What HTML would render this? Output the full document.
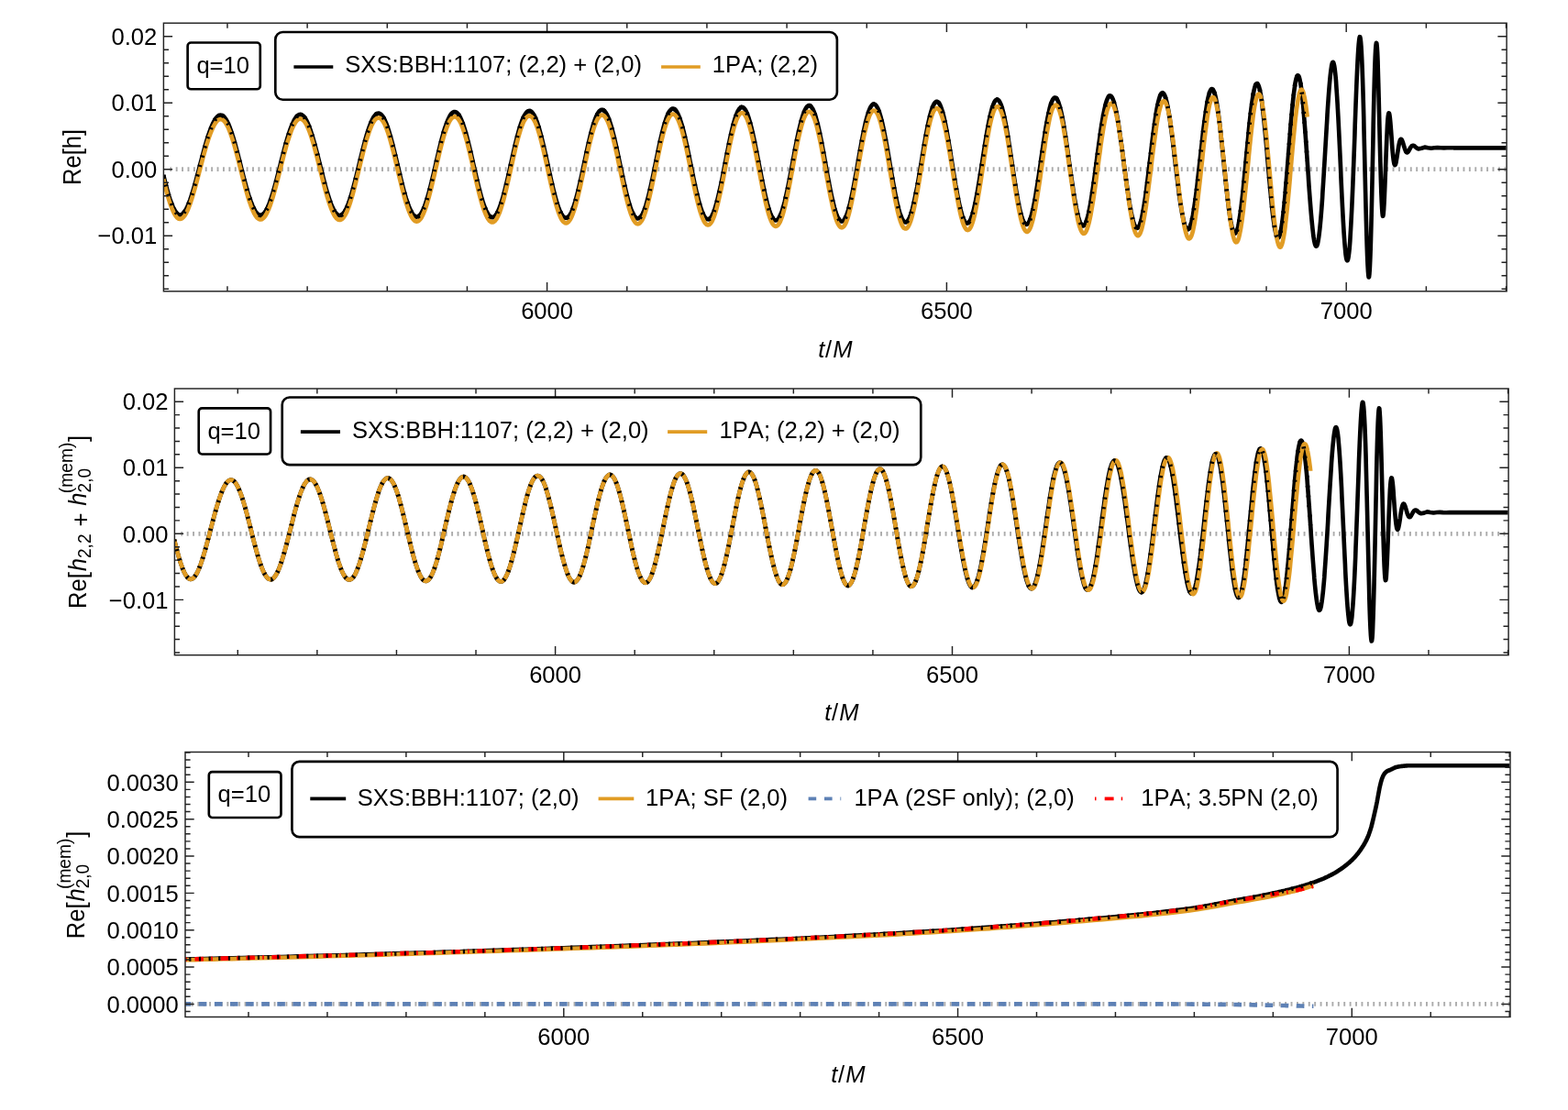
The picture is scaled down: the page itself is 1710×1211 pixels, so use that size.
<!DOCTYPE html>
<html><head><meta charset="utf-8"><title>Waveform comparison q=10</title>
<style>html,body{margin:0;padding:0;background:#fff}svg{display:block}</style></head>
<body>
<svg width="1710" height="1211" viewBox="0 0 1710 1211" font-family='"Liberation Sans", sans-serif' font-size="25.60" fill="#000" style="font-kerning:none">
<rect width="1710" height="1211" fill="#fff"/>
<clipPath id="c1"><rect x="178.40" y="25.20" width="1464.70" height="292.60"/></clipPath>
<clipPath id="c2"><rect x="190.40" y="424.00" width="1454.70" height="290.70"/></clipPath>
<clipPath id="c3"><rect x="202.00" y="820.50" width="1445.00" height="289.00"/></clipPath>
<g clip-path="url(#c1)" fill="none" stroke-linejoin="round">
<path d="M185.30,184.65H1643.10" stroke="#ABABAB" stroke-width="4.8" stroke-dasharray="1.9 4.51" fill="none"/>
<path d="M178.2,191l1 4.1 1 4 1 3.8 1 3.7 1 3.6 1 3.4 1 3.1 1.1 3 1 2.7 1 2.5 1 2.2 1 2 1 1.6 1 1.4 1 1.1 1 .7 1 .5 1 .1 1-.1 1-.4 1-.8 1-1 1-1.3 1-1.5 1-1.8 1-2.1 1-2.3 1-2.5 1-2.7 1-2.9 1-3.1 1-3.2 1-3.4 1-3.5 1-3.6 1-3.7 1-3.7 1-3.8 1-3.8 1-3.9 1-3.8 1-3.8 1-3.8 1-3.7 1-3.6 1-3.5 1-3.5 1-3.2 1-3.2 1-2.9 1.1-2.8 1-2.7 1-2.4 1-2.2 1-1.9 1-1.8 1-1.5 1-1.2 1-1 1-.7 1-.5 1-.1 1 .1 1 .3 1 .7 1 .9 1 1.2 1 1.4 1 1.7 1 2 1 2.2 1 2.4 1 2.7 1 2.8 1 3.1 1 3.2 1 3.4 1 3.5 1 3.6 1 3.8 1 3.8 1 3.9 1 4 1 3.9 1 4 1 3.9 1 4 1 3.8 1 3.8 1 3.6 1 3.6 1 3.4 1 3.2 1.1 3.1 1 2.9 1 2.6 1 2.5 1 2.2 1 2 1 1.7 1 1.4 1 1.1 1 .9 1 .6 1 .3 1 0 1-.3 1-.5 1-.9 1-1.1 1-1.4 1-1.7 1-1.9 1-2.2 1-2.4 1-2.7 1-2.8 1-3.1 1-3.2 1-3.4 1-3.5 1-3.7 1-3.7 1-3.9 1-3.9 1-3.9 1-4 1-4 1-3.9 1-4 1-3.8 1-3.8 1-3.7 1-3.6 1-3.4 1.1-3.3 1-3.1 1-2.9 1-2.8 1-2.5 1-2.2 1-2.1 1-1.7 1-1.5 1-1.3 1-.9 1-.7 1-.4 1-.1 1 .2 1 .5 1 .7 1 1.1 1 1.3 1 1.6 1 1.9 1 2.1 1 2.3 1 2.6 1 2.8 1 3.1 1 3.2 1 3.3 1 3.5 1 3.7 1 3.8 1 3.8 1 4 1 4 1 4 1 4 1 4 1 4 1 4 1 3.8 1 3.8 1 3.6 1 3.6 1.1 3.3 1 3.2 1 3 1 2.8 1 2.5 1 2.4 1 2 1 1.8 1 1.6 1 1.2 1 1 1 .7 1 .3 1 .1 1-.2 1-.5 1-.9 1-1.1 1-1.4 1-1.7 1-2 1-2.2 1-2.5 1-2.7 1-3 1-3.1 1-3.4 1-3.5 1-3.7 1-3.8 1-3.9 1-4 1-4.1 1-4.1 1-4.2 1-4.1 1-4.2 1-4.1 1-4 1-3.9 1-3.8 1-3.7 1-3.5 1.1-3.4 1-3.1 1-3 1-2.7 1-2.5 1-2.2 1-1.9 1-1.7 1-1.3 1-1.1 1-.8 1-.4 1-.1 1 .2 1 .5 1 .8 1 1.1 1 1.4 1 1.8 1 2 1 2.2 1 2.6 1 2.8 1 3 1 3.3 1 3.4 1 3.6 1 3.8 1 3.9 1 4 1 4.2 1 4.2 1 4.2 1 4.3 1 4.2 1 4.2 1 4.2 1 4.1 1 4 1 3.9 1 3.8 1 3.5 1 3.4 1.1 3.2 1 3 1 2.7 1 2.4 1 2.2 1 1.9 1 1.7 1 1.3 1 .9 1 .7 1 .4 1 0 1-.3 1-.7 1-.9 1-1.3 1-1.6 1-1.9 1-2.1 1-2.5 1-2.7 1-3 1-3.2 1-3.4 1-3.6 1-3.8 1-3.9 1-4.1 1-4.2 1-4.2 1-4.4 1-4.3 1-4.4 1-4.3 1-4.3 1-4.2 1-4.2 1-4 1-3.9 1-3.7 1-3.5 1-3.4 1.1-3.1 1-2.8 1-2.7 1-2.3 1-2 1-1.8 1-1.4 1-1.1 1-.8 1-.5 1-.1 1 .2 1 .6 1 .9 1 1.2 1 1.5 1 1.8 1 2.2 1 2.4 1 2.7 1 2.9 1 3.2 1 3.5 1 3.6 1 3.8 1 4 1 4.1 1 4.2 1 4.3 1 4.4 1 4.4 1 4.4 1 4.4 1 4.4 1 4.3 1 4.2 1 4.1 1 3.9 1 3.8 1 3.6 1 3.4 1 3.2 1 2.9 1.1 2.6 1 2.4 1 2 1 1.8 1 1.4 1 1.2 1 .7 1 .5 1 .1 1-.3 1-.6 1-1 1-1.2 1-1.7 1-1.9 1-2.2 1-2.6 1-2.8 1-3.1 1-3.3 1-3.6 1-3.8 1-3.9 1-4.1 1-4.3 1-4.3 1-4.5 1-4.5 1-4.5 1-4.5 1-4.5 1-4.5 1-4.3 1-4.3 1-4.1 1-4 1-3.8 1-3.5 1-3.4 1-3.1 1-2.8 1-2.5 1-2.3 1.1-1.9 1-1.6 1-1.3 1-.9 1-.5 1-.2 1 .1 1 .5 1 .9 1 1.2 1 1.5 1 1.9 1 2.2 1 2.5 1 2.8 1 3.1 1 3.3 1 3.6 1 3.8 1 4 1 4.1 1 4.3 1 4.4 1 4.5 1 4.6 1 4.5 1 4.6 1 4.6 1 4.5 1 4.5 1 4.3 1 4.2 1 4 1 3.9 1 3.6 1 3.5 1 3.1 1 2.9 1 2.6 1 2.3 1 1.9 1 1.6 1 1.3 1.1 .9 1 .5 1 .2 1-.2 1-.6 1-.9 1-1.3 1-1.6 1-2 1-2.4 1-2.6 1-3 1-3.2 1-3.5 1-3.8 1-4 1-4.1 1-4.4 1-4.4 1-4.6 1-4.7 1-4.7 1-4.7 1-4.7 1-4.7 1-4.6 1-4.5 1-4.4 1-4.2 1-4.1 1-3.8 1-3.6 1-3.3 1-3.1 1-2.7 1-2.4 1-2.1 1-1.8 1-1.4 1-1 1-.6 1-.3 1.1 .1 1 .5 1 .9 1 1.3 1 1.6 1 1.9 1 2.3 1 2.7 1 2.9 1 3.2 1 3.5 1 3.8 1 3.9 1 4.2 1 4.3 1 4.5 1 4.6 1 4.7 1 4.7 1 4.8 1 4.8 1 4.7 1 4.6 1 4.6 1 4.4 1 4.3 1 4.1 1 3.9 1 3.7 1 3.4 1 3.1 1 2.8 1 2.5 1 2.1 1 1.8 1 1.5 1 1 1 .7 1 .2 1-.1 1-.5 1-.9 1-1.3 1.1-1.7 1-2.1 1-2.4 1-2.7 1-3.1 1-3.4 1-3.7 1-3.9 1-4.1 1-4.4 1-4.5 1-4.7 1-4.8 1-4.9 1-4.9 1-5 1-4.9 1-4.8 1-4.8 1-4.7 1-4.5 1-4.3 1-4.1 1-3.9 1-3.6 1-3.3 1-3 1-2.7 1-2.3 1-2 1-1.5 1-1.2 1-.8 1-.4 1 .1 1 .4 1 .9 1 1.2 1 1.6 1 2 1 2.4 1 2.7 1 3 1.1 3.4 1 3.6 1 3.9 1 4.2 1 4.3 1 4.5 1 4.7 1 4.8 1 4.9 1 5 1 4.9 1 5 1 4.9 1 4.8 1 4.7 1 4.6 1 4.4 1 4.2 1 4 1 3.7 1 3.4 1 3.2 1 2.7 1 2.5 1 2 1 1.7 1 1.2 1 .9 1 .4 1 0 1-.4 1-.8 1-1.3 1-1.7 1-2.1 1-2.5 1-2.8 1-3.3 1-3.5 1-3.9 1-4.1 1-4.4 1.1-4.6 1-4.8 1-5 1-5.1 1-5.2 1-5.2 1-5.2 1-5.2 1-5.1 1-5 1-4.9 1-4.7 1-4.4 1-4.3 1-3.9 1-3.6 1-3.4 1-2.9 1-2.5 1-2.2 1-1.7 1-1.4 1-.8 1-.5 1 .1 1 .4 1 1 1 1.3 1 1.8 1 2.2 1 2.6 1 3 1 3.3 1 3.7 1 3.9 1 4.3 1 4.5 1 4.7 1 4.9 1 5 1 5.2 1 5.2 1 5.3 1.1 5.2 1 5.3 1 5.1 1 5 1 4.9 1 4.7 1 4.4 1 4.2 1 4 1 3.6 1 3.2 1 2.9 1 2.5 1 2.1 1 1.7 1 1.2 1 .8 1 .4 1-.2 1-.5 1-1.1 1-1.4 1-2 1-2.3 1-2.7 1-3.2 1-3.5 1-3.8 1-4.2 1-4.5 1-4.7 1-4.9 1-5.1 1-5.2 1-5.3 1-5.5 1-5.4 1-5.4 1-5.4 1-5.2 1-5.1 1-5 1-4.7 1.1-4.5 1-4.2 1-3.8 1-3.6 1-3.1 1-2.7 1-2.4 1-1.8 1-1.5 1-.9 1-.5 1 0 1 .5 1 1 1 1.5 1 1.9 1 2.4 1 2.8 1 3.2 1 3.6 1 3.9 1 4.3 1 4.6 1 4.9 1 5 1 5.3 1 5.4 1 5.5 1 5.6 1 5.6 1 5.6 1 5.5 1 5.4 1 5.2 1 5 1 4.8 1 4.5 1 4.2 1 3.9 1 3.4 1 3.1 1 2.6 1 2.2 1.1 1.8 1 1.2 1 .7 1 .3 1-.3 1-.8 1-1.2 1-1.8 1-2.2 1-2.7 1-3.2 1-3.5 1-3.9 1-4.3 1-4.6 1-4.9 1-5.1 1-5.4 1-5.5 1-5.6 1-5.7 1-5.8 1-5.7 1-5.6 1-5.6 1-5.4 1-5.2 1-4.9 1-4.7 1-4.4 1-4 1-3.6 1-3.2 1-2.8 1-2.3 1-1.8 1-1.3 1-.8 1-.2 1 .2 1 .8 1 1.3 1.1 1.9 1 2.3 1 2.8 1 3.2 1 3.7 1 4.1 1 4.4 1 4.8 1 5.1 1 5.3 1 5.5 1 5.7 1 5.8 1 5.9 1 5.9 1 5.8 1 5.8 1 5.6 1 5.5 1 5.3 1 4.9 1 4.7 1 4.3 1 3.9 1 3.5 1 3.1 1 2.6 1 2.1 1 1.5 1 1.1 1 .5 1-.1 1-.6 1-1.1 1-1.6 1-2.2 1-2.6 1-3.2 1-3.6 1-4 1-4.4 1-4.8 1-5.1 1.1-5.3 1-5.7 1-5.8 1-5.9 1-6 1-6.1 1-6.1 1-6 1-5.9 1-5.7 1-5.5 1-5.3 1-4.9 1-4.6 1-4.2 1-3.7 1-3.3 1-2.8 1-2.2 1-1.7 1-1.1 1-.6 1 .1 1 .6 1 1.3 1 1.7 1 2.4 1 2.9 1 3.4 1 3.9 1 4.4 1 4.7 1 5.2 1 5.5 1 5.7 1 6 1 6.1 1 6.3 1 6.3 1 6.3 1 6.3 1 6.2 1 6 1.1 5.7 1 5.5 1 5.2 1 4.7 1 4.4 1 3.9 1 3.4 1 2.9 1 2.3 1 1.8 1 1.1 1 .6 1-.1 1-.6 1-1.3 1-1.8 1-2.4 1-3 1-3.4 1-4 1-4.4 1-4.9 1-5.2 1-5.6 1-5.9 1-6.1 1-6.2 1-6.4 1-6.5 1-6.5 1-6.4 1-6.4 1-6.1 1-5.9 1-5.7 1-5.3 1-4.9 1-4.4 1-4 1-3.4 1-2.9 1-2.3 1-1.6 1.1-1.1 1-.3 1 .3 1 .9 1 1.6 1 2.2 1 2.8 1 3.4 1 3.9 1 4.5 1 4.9 1 5.3 1 5.8 1 6 1 6.3 1 6.5 1 6.7 1 6.7 1 6.8 1 6.6 1 6.6 1 6.3 1 6.2 1 5.8 1 5.4 1 5 1 4.5 1 4.1 1 3.4 1 2.9 1 2.2 1 1.6 1 .9 1 .3 1-.5 .8-.8 .8-1.2 .8-1.6 .8-2 .8-2.4 .7-2.7 .8-3.2 .8-3.4 .8-3.8 .8-4 .8-4.4 .7-4.5 .8-4.8 .8-5 .8-5.2 .8-5.2 .8-5.4 .8-5.4 .7-5.5 .8-5.5 .8-5.4 .8-5.3 .8-5.3 .8-5.1 .7-4.9 .8-4.8 .8-4.4 .8-4.3 .8-3.9 .8-3.6 .7-3.3 .8-2.9 .8-2.5 .8-2.1 .8-1.7 .8-1.3 .8-.9 .7-.3 .8 0 .8 .5 .8 1 .8 1.4 .8 1.8 .7 2.2 .8 2.6 .8 3 .8 3.4 .8 3.7 .8 4 .8 4.3 .7 4.6 .8 4.9 .8 5 .8 5.3 .8 5.4 .8 5.5 .7 5.5 .8 5.7 .8 5.6 .8 5.6 .8 5.5 .8 5.4 .8 5.3 .7 5.1 .8 5 .8 4.6 .8 4.4 .8 4.2 .8 3.7 .7 3.5 .8 3 .8 2.6 .8 2.3 .8 1.8 .8 1.3 .7 .9 .8 .4 .8-.1 .8-.6 .8-1 .8-1.5 .8-2 .7-2.4 .8-2.9 .8-3.2 .8-3.7 .8-4.1 .8-4.4 .7-4.7 .8-5 .8-5.2 .8-5.5 .8-5.7 .8-5.8 .8-5.9 .7-5.9 .8-6 .8-5.9 .8-5.9 .8-5.7 .8-5.6 .7-5.4 .8-5.2 .8-4.9 .8-4.6 .8-4.3 .8-3.8 .8-3.5 .7-3.1 .8-2.6 .8-2.2 .8-1.7 .8-1.2 .8-.7 .7-.2 .8 .3 .8 .8 .8 1.3 .8 1.7 .8 2.2 .7 2.7 .8 3.1 .8 3.5 .8 3.9 .8 4.2 .8 4.6 .8 4.9 .7 5.1 .8 5.4 .8 5.6 .8 5.7 .8 5.9 .8 5.9 .7 6 .8 6 .8 6 .8 5.8 .8 5.8 .8 5.6 .8 5.4 .7 5.2 .8 4.9 .8 4.5 .8 4.3 .8 3.8 .8 3.5 .7 3 .8 2.6 .8 2.1 .8 1.5 .8 1.1 .8 .5 .8 0 .7-.5 .8-1.1 .8-1.7 .8-2.2 .8-2.7 .8-3.2 .7-3.7 .8-4.2 .8-4.6 .8-5 .8-5.3 .8-5.7 .7-5.9 .8-6.2 .8-6.4 .8-6.5 .8-6.6 .8-6.6 .8-6.6 .7-6.4 .8-6.4 .8-6.2 .8-5.9 .8-5.7 .8-5.3 .7-4.9 .8-4.6 .8-4 .8-3.6 .8-3.1 .8-2.5 .8-1.9 .7-1.4 .8-.8 .8-.2 .8 .5 .8 1 .8 1.6 .7 2.1 .8 2.7 .8 3.3 .8 3.7 .8 4.3 .8 4.6 .8 5.1 .7 5.4 .8 5.8 .8 6 .8 6.3 .8 6.4 .8 6.6 .7 6.6 .8 6.7 .8 6.6 .8 6.6 .8 6.4 .8 6.2 .7 6 .8 5.7 .8 5.4 .8 5 .8 4.6 .8 4.2 .8 3.6 .7 3.2 .8 2.6 .8 2 .8 1.4 .8 .9 .8 .2 .7-.4 .8-1.1 .8-1.6 .8-2.3 .8-2.8 .8-3.4 .8-4 .7-4.4 .8-5 .8-5.4 .8-5.8 .8-6.1 .8-6.5 .7-6.7 .8-6.9 .8-7.1 .8-7.1 .8-7.1 .8-7.1 .8-7 .7-6.9 .8-6.6 .8-6.2 .8-6 .8-5.5 .8-5.1 .7-4.6 .8-4 .8-3.5 .8-2.8 .8-2.1 .8-1.5 .7-.8 .8 0 .8 .6 .8 1.4 .8 2.1 .8 2.8 .8 3.4 .7 4.1 .8 4.7 .8 5.2 .8 5.8 .8 6.3 .8 6.6 .7 7 .8 7.3 .8 7.6 .8 7.6 .8 7.8 .8 7.7 .8 7.7 .7 7.5 .8 7.3 .8 7 .8 6.6 .8 6.2 .8 5.7 .7 5.2 .8 4.5 .8 3.8 .8 3.2 .8 2.4 .8 1.6 .8 .9 .7 0 .8-.8 .8-1.6 .8-2.4 .8-3.2 .8-3.9 .7-4.7 .8-5.3 .8-5.9 .8-6.6 .8-7 .8-7.4 .7-7.8 .8-8.1 .8-8.3 .8-8.4 .8-8.4 .8-8.3 .8-8.2 .7-7.9 .8-7.6 .8-7.1 .8-6.7 .8-6.1 .8-5.5 .7-4.8 .8-4 .8-3.2 .8-2.4 .8-1.5 .8-.6 .8 .3 .7 1.3 .8 2.1 .8 3 .8 3.9 .8 4.6 .8 5.5 .7 6.2 .8 6.8 .8 7.4 .8 7.9 .8 8.3 .8 8.7 .8 8.8 .3 4.5 .4 4.5 .4 4.5 .4 4.5 .4 4.5 .4 4.5 .4 4.4 .4 4.3 .4 4.3 .4 4.2 .4 4.1 .4 4 .3 3.8 .4 3.8 .4 3.6 .4 3.4 .4 3.3 .4 3.1 .4 2.9 .4 2.7 .4 2.5 .4 2.3 .4 2.1 .4 1.8 .4 1.7 .3 1.3 .4 1.2 .4 .9 .4 .6 .4 .4 .4 .1 .4-.2 .4-.4 .4-.6 .4-1 .4-1.2 .4-1.4 .4-1.7 .3-1.9 .4-2.2 .4-2.5 .4-2.6 .4-2.9 .4-3.1 .4-3.4 .4-3.5 .4-3.7 .4-3.9 .4-4.1 .4-4.2 .4-4.4 .3-4.5 .4-4.6 .4-4.7 .4-4.8 .4-4.9 .4-5 .4-5 .4-5 .4-5.1 .4-5 .4-5 .4-5 .4-4.9 .3-4.9 .4-4.8 .4-4.7 .4-4.5 .4-4.4 .4-4.3 .4-4.1 .4-4 .4-3.7 .4-3.5 .4-3.3 .4-3.1 .4-2.8 .3-2.6 .4-2.3 .4-2 .4-1.8 .4-1.4 .4-1.1 .4-.9 .4-.5 .4-.2 .4 .1 .4 .5 .4 .7 .3 1.1 .4 1.4 .4 1.8 .4 2 .4 2.3 .4 2.7 .4 2.9 .4 3.2 .4 3.5 .4 3.8 .4 4 .4 4.3 .4 4.4 .3 4.7 .4 4.9 .4 5 .4 5.2 .4 5.4 .4 5.5 .4 5.5 .4 5.7 .4 5.7 .4 5.7 .4 5.8 .4 5.7 .4 5.7 .3 5.7 .4 5.6 .4 5.5 .4 5.4 .4 5.2 .4 5.1 .4 4.9 .4 4.7 .4 4.4 .4 4.3 .4 4 .4 3.6 .4 3.5 .3 3 .4 2.8 .4 2.5 .4 2.1 .4 1.7 .4 1.4 .4 .9 .4 .7 .4 .2 .4-.2 .4-.5 .4-1 .4-1.3 .3-1.7 .4-2.1 .4-2.5 .4-2.9 .4-3.2 .4-3.6 .4-3.9 .4-4.2 .4-4.6 .4-4.9 .4-5.1 .4-5.4 .4-5.7 .3-5.9 .4-6.1 .4-6.2 .4-6.4 .4-6.6 .4-6.6 .4-6.7 .4-6.8 .4-6.7 .4-6.8 .4-6.7 .4-6.6 .4-6.5 .3-6.4 .4-6.1 .4-6 .4-5.7 .4-5.5 .4-5.2 .4-4.8 .4-4.4 .4-4.1 .4-3.6 .4-3.2 .4-2.7 .3-2.2 .4-1.7 .4-1.2 .4-.6 .4-.1 .4 .6 .4 1.1 .4 1.7 .4 2.3 .4 2.9 .4 3.5 .4 4 .4 4.6 .3 5.1 .4 5.7 .4 6.1 .4 6.5 .4 7 .4 7.3 .4 7.7 .4 8 .4 8.2 .4 8.4 .4 8.5 .4 8.6 .4 8.7 .3 8.6 .4 8.5 .4 8.4 .4 8.2 .4 7.9 .4 7.6 .4 7.3 .4 6.8 .4 6.4 .4 5.8 .4 5.4 .4 4.7 .4 4.1 .3 3.5 .4 2.7 .4 2.1 .4 1.4 .4 .6 .4-.1 .4-.9 .4-1.5 .4-2.3 .4-3 .4-3.8 .4-4.4 .4-5.2 .3-5.8 .4-6.5 .4-7.1 .4-7.7 .4-8.2 .4-8.8 .4-9.3 .4-9.7 .4-10.1 .4-10.4 .4-10.6 .4-10.9 .4-10.9 .3-11 .4-10.8 .4-10.7 .4-10.5 .4-10 .4-9.5 .4-8.9 .4-8.2 .4-7.4 .4-6.4 .4-5.2 .4-4.1 .4-2.8 .3-1.4 .4 .1 .4 1.7 .4 3.2 .4 4.9 .4 6.5 .4 8.2 .4 9.7 .4 11.2 .4 12.6 .4 13.8 .4 14.9 .3 15.8 .4 16.4 .4 16.8 .4 16.9 .4 16.7 .4 16.2 .4 15.4 .4 14.3 .4 12.9 .4 11.1 .4 9.2 .4 7 .4 4.7 .3 2.1 .4-.4 .4-3.2 .4-5.9 .4-8.5 .4-10.9 .4-13 .4-15.1 .4-16.6 .4-17.8 .4-18.8 .4-19.1 .4-19.1 .3-18.7 .4-17.9 .4-16.5 .4-14.9 .4-12.9 .4-10.5 .4-8.1 .4-5.3 .4-2.5 .4 .4 .4 3.5 .4 6.3 .4 9.1 .3 11.5 .4 13.5 .4 15 .4 16 .4 16.5 .4 16.5 .4 16 .4 14.9 .4 13.6 .4 11.7 .4 9.7 .4 7.4 .4 4.9 .3 2.5 .4-.1 .4-2.6 .4-4.9 .4-6.9 .4-8.5 .4-9.7 .4-10.5 .4-10.8 .4-10.7 .4-10.3 .4-9.4 .4-8.3 .3-7 .4-5.5 .4-4 .4-2.4 .4-.9 .4 .5 .4 1.8 .4 3 .4 3.9 .4 4.7 .4 5.1 .4 5.3 .4 5.4 .3 5.2 .4 5 .4 4.4 .4 3.9 .4 3.2 .4 2.4 .4 1.8 .4 .9 .4 .3 .4-.4 .4-1 .4-1.5 .3-2 .4-2.3 .4-2.5 .4-2.7 .4-2.6 .4-2.6 .4-2.4 .4-2.2 .4-1.9 .4-1.6 .4-1.2 .4-.9 .4-.4 .3-.1 .4 .2 .4 .5 .4 .8 .4 1 .4 1.2 .4 1.3 .4 1.3 .4 1.4 .4 1.3 .4 1.3 .4 1.1 .4 1 .3 .9 .4 .6 .4 .4 .4 .2 .4 .1 .4-.2 .4-.3 .4-.5 .4-.6 .4-.7 .4-.7 .4-.7 .4-.8 .3-.7 .4-.6 .4-.5 .4-.5 .4-.4 .4-.2 .4-.2 .4 0 .4 0 .4 .1 .4 .2 .4 .3 .4 .2 .3 .4 .4 .3 .4 .3 .4 .4 .4 .3 .4 .3 .4 .2 .4 .3 .4 .1 .4 .2 3.5-.6 3.4-1.2 3.5 .6 3.5 .5 3.5-.4 3.5-.2 3.5 .2 3.5 .1 3.5-.1 3.4-.1 3.5 .1 3.5 0 3.5 0 3.5 0 3.5 0 3.5 0 3.4 0 3.5 0 3.5 0 3.5 0 3.5 0 3.5 0 3.5 0 3.4 0 3.5 0 3.5 0 3.5 0 1.6 0" stroke="#000" stroke-width="4.65"/>
<path d="M178.2,195.4l1 4.1 1 3.9 1 3.9 1 3.7 1 3.6 1 3.3 1 3.2 1.1 3 1 2.7 1 2.5 1 2.2 1 2 1 1.6 1 1.4 1 1.1 1 .7 1 .5 1 .2 1-.2 1-.4 1-.7 1-1 1-1.3 1-1.6 1-1.8 1-2 1-2.3 1-2.5 1-2.7 1-2.9 1-3.1 1-3.2 1-3.4 1-3.5 1-3.6 1-3.7 1-3.7 1-3.8 1-3.9 1-3.8 1-3.8 1-3.8 1-3.8 1-3.7 1-3.6 1-3.6 1-3.4 1-3.2 1-3.2 1-3 1.1-2.8 1-2.6 1-2.4 1-2.2 1-1.9 1-1.8 1-1.5 1-1.2 1-1 1-.7 1-.4 1-.2 1 .1 1 .4 1 .6 1 .9 1 1.2 1 1.5 1 1.7 1 1.9 1 2.2 1 2.5 1 2.6 1 2.9 1 3 1 3.2 1 3.4 1 3.5 1 3.7 1 3.7 1 3.9 1 3.9 1 3.9 1 4 1 4 1 3.9 1 3.9 1 3.9 1 3.8 1 3.6 1 3.6 1 3.4 1 3.2 1.1 3.1 1 2.9 1 2.6 1 2.5 1 2.2 1 2 1 1.7 1 1.4 1 1.2 1 .8 1 .6 1 .3 1 0 1-.2 1-.6 1-.9 1-1.1 1-1.4 1-1.7 1-1.9 1-2.2 1-2.4 1-2.6 1-2.9 1-3 1-3.2 1-3.4 1-3.5 1-3.7 1-3.8 1-3.8 1-3.9 1-3.9 1-4 1-4 1-4 1-3.9 1-3.9 1-3.7 1-3.7 1-3.6 1-3.4 1.1-3.3 1-3.1 1-2.9 1-2.8 1-2.5 1-2.2 1-2 1-1.8 1-1.5 1-1.3 1-.9 1-.7 1-.4 1-.1 1 .2 1 .5 1 .8 1 1 1 1.3 1 1.6 1 1.9 1 2.1 1 2.4 1 2.6 1 2.8 1 3 1 3.2 1 3.4 1 3.5 1 3.7 1 3.7 1 3.9 1 4 1 3.9 1 4.1 1 4 1 4 1 4 1 4 1 3.8 1 3.8 1 3.6 1 3.6 1.1 3.3 1 3.2 1 3 1 2.8 1 2.5 1 2.4 1 2.1 1 1.8 1 1.5 1 1.3 1 .9 1 .7 1 .4 1 .1 1-.3 1-.5 1-.8 1-1.1 1-1.5 1-1.7 1-1.9 1-2.2 1-2.5 1-2.8 1-2.9 1-3.2 1-3.3 1-3.5 1-3.7 1-3.8 1-3.9 1-4 1-4.1 1-4.1 1-4.2 1-4.1 1-4.2 1-4.1 1-4 1-3.9 1-3.8 1-3.7 1-3.5 1.1-3.4 1-3.1 1-3 1-2.7 1-2.4 1-2.2 1-2 1-1.6 1-1.4 1-1.1 1-.7 1-.5 1-.1 1 .2 1 .5 1 .8 1 1.2 1 1.4 1 1.7 1 2 1 2.3 1 2.6 1 2.8 1 3 1 3.2 1 3.5 1 3.6 1 3.8 1 3.9 1 4 1 4.2 1 4.2 1 4.2 1 4.3 1 4.2 1 4.3 1 4.1 1 4.1 1 4.1 1 3.8 1 3.8 1 3.6 1 3.4 1.1 3.1 1 3 1 2.7 1 2.5 1 2.2 1 1.9 1 1.6 1 1.3 1 1 1 .7 1 .3 1 0 1-.3 1-.6 1-1 1-1.2 1-1.6 1-1.9 1-2.2 1-2.4 1-2.7 1-3 1-3.2 1-3.4 1-3.6 1-3.8 1-3.9 1-4.1 1-4.2 1-4.2 1-4.3 1-4.4 1-4.3 1-4.4 1-4.3 1-4.2 1-4.1 1-4.1 1-3.8 1-3.8 1-3.5 1-3.3 1.1-3.1 1-2.9 1-2.6 1-2.3 1-2.1 1-1.7 1-1.4 1-1.1 1-.8 1-.5 1-.1 1 .2 1 .6 1 .9 1 1.2 1 1.5 1 1.8 1 2.2 1 2.4 1 2.7 1 3 1 3.2 1 3.4 1 3.6 1 3.8 1 4 1 4.1 1 4.2 1 4.3 1 4.4 1 4.4 1 4.4 1 4.4 1 4.4 1 4.3 1 4.2 1 4.1 1 4 1 3.8 1 3.6 1 3.4 1 3.1 1 2.9 1.1 2.7 1 2.4 1 2 1 1.8 1 1.4 1 1.2 1 .7 1 .5 1 .1 1-.3 1-.6 1-.9 1-1.3 1-1.6 1-2 1-2.2 1-2.5 1-2.9 1-3.1 1-3.3 1-3.5 1-3.8 1-4 1-4.1 1-4.2 1-4.4 1-4.4 1-4.5 1-4.5 1-4.5 1-4.5 1-4.5 1-4.3 1-4.3 1-4.1 1-4 1-3.8 1-3.5 1-3.4 1-3.1 1-2.8 1-2.5 1-2.3 1.1-1.9 1-1.6 1-1.2 1-1 1-.5 1-.2 1 .1 1 .6 1 .8 1 1.2 1 1.6 1 1.9 1 2.2 1 2.5 1 2.8 1 3.1 1 3.3 1 3.6 1 3.8 1 3.9 1 4.2 1 4.3 1 4.4 1 4.5 1 4.5 1 4.6 1 4.6 1 4.6 1 4.5 1 4.5 1 4.3 1 4.2 1 4.1 1 3.8 1 3.7 1 3.4 1 3.1 1 2.9 1 2.6 1 2.3 1 2 1 1.6 1 1.2 1.1 .9 1 .6 1 .2 1-.2 1-.6 1-.9 1-1.3 1-1.7 1-2 1-2.3 1-2.7 1-2.9 1-3.3 1-3.5 1-3.7 1-4 1-4.1 1-4.3 1-4.5 1-4.6 1-4.6 1-4.7 1-4.8 1-4.7 1-4.7 1-4.6 1-4.5 1-4.4 1-4.2 1-4 1-3.8 1-3.6 1-3.4 1-3 1-2.7 1-2.5 1-2.1 1-1.7 1-1.4 1-1 1-.6 1-.3 1.1 .1 1 .5 1 .9 1 1.3 1 1.6 1 1.9 1 2.3 1 2.7 1 2.9 1 3.2 1 3.5 1 3.8 1 3.9 1 4.2 1 4.4 1 4.4 1 4.6 1 4.7 1 4.8 1 4.7 1 4.8 1 4.7 1 4.7 1 4.6 1 4.4 1 4.3 1 4.1 1 3.9 1 3.7 1 3.4 1 3.1 1 2.8 1 2.5 1 2.1 1 1.8 1 1.5 1 1 1 .7 1 .3 1-.2 1-.5 1-.9 1-1.3 1.1-1.7 1-2 1-2.4 1-2.8 1-3.1 1-3.3 1-3.7 1-3.9 1-4.2 1-4.3 1-4.6 1-4.6 1-4.8 1-4.9 1-4.9 1-5 1-4.9 1-4.8 1-4.8 1-4.7 1-4.5 1-4.3 1-4.1 1-3.9 1-3.6 1-3.3 1-3 1-2.7 1-2.3 1-1.9 1-1.6 1-1.2 1-.7 1-.4 1 0 1 .5 1 .8 1 1.3 1 1.6 1 2 1 2.4 1 2.7 1 3 1.1 3.4 1 3.6 1 3.9 1 4.2 1 4.3 1 4.6 1 4.6 1 4.8 1 4.9 1 5 1 4.9 1 5 1 4.9 1 4.9 1 4.7 1 4.6 1 4.4 1 4.2 1 4 1 3.7 1 3.4 1 3.1 1 2.8 1 2.4 1 2.1 1 1.7 1 1.2 1 .9 1 .4 1 0 1-.4 1-.8 1-1.3 1-1.7 1-2.1 1-2.5 1-2.8 1-3.2 1-3.6 1-3.8 1-4.2 1-4.4 1.1-4.6 1-4.8 1-4.9 1-5.1 1-5.2 1-5.2 1-5.2 1-5.2 1-5.1 1-5 1-4.9 1-4.7 1-4.4 1-4.3 1-3.9 1-3.6 1-3.3 1-3 1-2.5 1-2.2 1-1.7 1-1.3 1-.9 1-.4 1 0 1 .5 1 .9 1 1.4 1 1.8 1 2.2 1 2.6 1 2.9 1 3.4 1 3.6 1 4 1 4.3 1 4.5 1 4.7 1 4.9 1 5 1 5.2 1 5.2 1 5.3 1.1 5.3 1 5.2 1 5.1 1 5.1 1 4.8 1 4.7 1 4.5 1 4.2 1 3.9 1 3.6 1 3.3 1 2.9 1 2.5 1 2.1 1 1.7 1 1.2 1 .8 1 .4 1-.2 1-.5 1-1.1 1-1.4 1-1.9 1-2.4 1-2.7 1-3.2 1-3.5 1-3.8 1-4.2 1-4.4 1-4.7 1-4.9 1-5.1 1-5.2 1-5.4 1-5.4 1-5.4 1-5.4 1-5.4 1-5.2 1-5.2 1-4.9 1-4.7 1.1-4.5 1-4.2 1-3.8 1-3.5 1-3.2 1-2.7 1-2.3 1-1.9 1-1.4 1-1 1-.4 1 0 1 .5 1 1 1 1.4 1 1.9 1 2.4 1 2.8 1 3.2 1 3.6 1 4 1 4.3 1 4.6 1 4.9 1 5 1 5.3 1 5.4 1 5.6 1 5.5 1 5.6 1 5.6 1 5.5 1 5.4 1 5.2 1 5.1 1 4.7 1 4.6 1 4.2 1 3.8 1 3.5 1 3.1 1 2.6 1 2.2 1.1 1.7 1 1.3 1 .7 1 .3 1-.3 1-.8 1-1.2 1-1.8 1-2.2 1-2.7 1-3.1 1-3.6 1-3.9 1-4.3 1-4.6 1-4.9 1-5.1 1-5.3 1-5.6 1-5.6 1-5.7 1-5.7 1-5.7 1-5.7 1-5.5 1-5.4 1-5.2 1-5 1-4.6 1-4.4 1-4 1-3.6 1-3.2 1-2.7 1-2.3 1-1.8 1-1.3 1-.8 1-.2 1 .2 1 .8 1 1.3 1.1 1.8 1 2.4 1 2.8 1 3.2 1 3.7 1 4.1 1 4.4 1 4.8 1 5 1 5.4 1 5.5 1 5.7 1 5.8 1 5.8 1 5.9 1 5.9 1 5.8 1 5.6 1 5.5 1 5.2 1 5 1 4.7 1 4.3 1 4 1 3.5 1 3.1 1 2.6 1 2.1 1 1.6 1 1 1 .5 1 0 1-.6 1-1.1 1-1.7 1-2.1 1-2.7 1-3.2 1-3.6 1-4.1 1-4.4 1-4.8 1-5.2 1.1-5.4 1-5.6 1-5.8 1-6 1-6.1 1-6 1-6.1 1-6 1-5.9 1-5.7 1-5.5 1-5.2 1-4.9 1-4.5 1-4.1 1-3.7 1-3.3 1-2.7 1-2.2 1-1.6 1-1.1 1-.5 1 0 1 .7 1 1.1 1 1.8 1 2.3 1 2.8 1 3.3 1 3.7 1 4.2 1 4.6 1 5 1 5.3 1 5.6 1 5.7 1 6 1 6.1 1 6.2 1 6.2 1 6.1 1 6.1 1 6 1.1 5.7 1 5.5 1 5.3 1 4.9 1 4.5 1 4.1 1 3.6 1 3.2 1 2.6 1 2 1 1.5 1 1 1 .3 1-.3 1-.9 1-1.5 1-2 1-2.7 1-3.1 1-3.7 1-4.2 1-4.7 1-5.1 1-5.4 1-5.8 1-6.1 1-6.3 1-6.4 1-6.6 1-6.5 1-6.6 1-6.4 1-6.4 1-6.1 1-5.8 1-5.5 1-5.1 1-4.6 1-4.2 1-3.7 1-3 1-2.5 1-1.9 1.1-1.2 1-.5 1 .1 1 .7 1 1.4 1 2 1 2.6 1 3.2 1 3.8 1 4.2 1 4.7 1 5.2 1 5.5 1 5.9 1 6.1 1 6.4 1 6.5 1 6.6 1 6.6 1 6.6 1 6.5 1 6.4 1 6.1 1 5.9 1 5.6 1 5.2 1 4.7 1 4.3 1 3.8 1 3.2 1 2.6 1 2 1 1.4 1 .7 1 0 .8-.4 .8-.8 .8-1.3 .8-1.6 .8-2 .7-2.4 .8-2.7 .8-3.2 .8-3.4 .8-3.8 .8-4 .7-4.3 .8-4.6 .8-4.8 .8-5 .8-5.1 .8-5.3 .8-5.4 .7-5.4 .8-5.5 .8-5.5 .8-5.4 .8-5.4 .8-5.2 .7-5.1 .8-5 .8-4.7 .8-4.5 .8-4.2 .8-3.9 .7-3.6 .8-3.3 .8-2.9 .8-2.5 .8-2.1 .8-1.6 .8-1.2 .7-.8 .8-.4 .8 .2 .8 .5 .8 1 .8 1.5 .7 1.9 .8 2.2 .8 2.7 .8 3.1 .8 3.4 .8 3.8 .8 4.1 .7 4.4 .8 4.6 .8 4.9 .8 5.1 .8 5.3 .8 5.4 .7 5.5 .8 5.6 .8 5.6 .8 5.6 .8 5.6 .8 5.5 .8 5.4 .7 5.3 .8 5 .8 4.9 .8 4.6 .8 4.4 .8 4 .7 3.8 .8 3.3 .8 3 .8 2.6 .8 2.2 .8 1.7 .7 1.3 .8 .9 .8 .4 .8-.1 .8-.5 .8-1 .8-1.4 .7-1.9 .8-2.3 .8-2.7 .8-3.1 .8-3.5 .8-3.9 .7-4.2 .8-4.5 .8-4.8 .8-5.1 .8-5.3 .8-5.5 .8-5.6 .7-5.7 .8-5.8 .8-5.9 .8-5.8 .8-5.9 .8-5.7 .7-5.6 .8-5.4 .8-5.2 .8-5 .8-4.8 .8-4.4 .8-4.1 .7-3.7 .8-3.3 .8-2.9 .8-2.4 .8-2 .8-1.5 .7-1 .8-.5 .8 0 .8 .5 .8 .9 .8 1.5 .7 2 .8 2.4 .8 2.9 .8 3.4 .8 3.7 .8 4.2 .8 4.5 .7 4.8 .8 5.1 .8 5.4 .8 5.6 .8 5.8 .8 5.9 .7 6.1 .8 6.1 .8 6.1 .8 6.1 .8 6 .8 5.9 .8 5.7 .7 5.5 .8 5.3 .8 5 .8 4.7 .8 4.4 .8 3.9 .7 3.6 .8 3.1 .8 2.6 .8 2.2 .8 1.6 .8 1.2 .8 .6 .7 0 .8-.4 .8-1.1 .8-1.5 .8-2.1 .8-2.5 .7-3.1 .8-3.5 .8-4 .8-4.4 .8-4.8 .8-5.1 .7-5.5 .8-5.7 .8-5.9 .8-6.2 .8-6.3 .8-6.3 .8-6.5 .7-6.4 .8-6.4 .8-6.2 .8-6.1 .8-6 .8-5.6 .7-5.4 .8-5 .8-4.7 .8-4.3 .8-3.8 .8-3.3 .8-2.8 .7-2.3 .8-1.8 .8-1.2 .8-.6 .8-.1 .8 .5 .7 1.1 .8 1.7 .8 2.2 .8 2.7 .8 3.3 .8 3.7 .8 4.2 .7 4.6 .8 5.1 .8 5.4 .8 5.7 .8 6 .8 6.2 .7 6.4 .8 6.5 .8 6.6 .8 6.7 .8 6.6 .8 6.6 .7 6.4 .8 6.3 .8 6 .8 5.8 .8 5.5 .8 5.1 .8 4.6 .7 4.3 .8 3.7 .8 3.3 .8 2.7 .8 2.1 .8 1.5 .7 .9 .8 .2 .8-.4 .8-1 .8-1.6 .8-2.3 .8-2.9 .7-3.4 .8-4.1 .8-4.6 .8-5.1 .8-5.5 .8-6 .7-6.4 .8-6.6 .8-7 .8-7.1 .8-7.3 .8-7.3 .8-7.3 .7-7.3 .8-7.1 .8-7 .8-6.7 .8-6.3 .8-6 .7-5.5 .8-5 .8-4.5 .8-3.8 .8-3.3 .8-2.5 .7-1.9 .8-1.1 .8-.4 .8 .3 .8 1.1 .8 1.8 .8 2.5 .7 3.2 .8 3.8 .8 4.5 .8 5 .8 5.6 .8 6.1 .7 6.5 .8 6.9 .8 7.1 .8 7.5 .8 7.5 .8 7.7 .8 7.7 .7 7.7 .8 7.5 .8 7.3 .8 7.1 .8 6.8 .8 6.3 .7 5.9 .8 5.4 .8 4.8 .8 4.2 .8 3.5 .8 2.8 .8 2.2 .7 1.3 .8 .6 .8-.1 .8-1 .8-1.6 .8-2.5 .7-3.2 .8-3.9 .8-4.5 .8-5.2 .8-5.8 .8-6.3 .7-6.8 .8-7.1 .8-7.5 .8-7.8 .8-8 .8-8.1 .8-8.1 .7-8.1 .8-7.9 .8-7.7 .8-7.5 .8-7 .8-6.6 .7-6.1 .8-5.5 .8-4.9 .8-4.1 .8-3.4 .8-2.6 .8-1.8 .7-.9 .8-.1 .8 .8 .8 1.7 .8 2.6 .8 3.4 .7 4.2 .8 5 .8 5.7 .8 6.4 .8 7 .8 7.5 .8 7.9 .3 4.1 .4 4.2 .4 4.3 .4 4.3 .4 4.4 .4 4.4 .4 4.4 .4 4.4 .4 4.4 .4 4.4 .4 4.4 .4 4.3 .3 4.2 .4 4.2 .4 4.2 .4 4 .4 3.9 .4 3.8 .4 3.7 .4 3.5 .4 3.4 .4 3.3 .4 3.1 .4 2.9 .4 2.7 .3 2.5 .4 2.4 .4 2.1 .4 1.9 .4 1.7 .4 1.4 .4 1.3 .4 1 .4 .8 .4 .5 .4 .3 .4 .1 .4-.2 .3-.4 .4-.7 .4-.9 .4-1.1 .4-1.4 .4-1.6 .4-1.8 .4-2 .4-2.2 .4-2.5 .4-2.6 .4-2.8 .4-3.1 .3-3.1 .4-3.4 .4-3.5 .4-3.7 .4-3.8 .4-3.9 .4-4.1 .4-4.1 .4-4.3 .4-4.3 .4-4.4 .4-4.4 .4-4.5 .3-4.5 .4-4.6 .4-4.5 .4-4.6 .4-4.5 .4-4.5 .4-4.4 .4-4.4 .4-4.4 .4-4.2 .4-4.2 .4-4 .4-3.9 .3-3.8 .4-3.7 .4-3.5 .4-3.3 .4-3.2 .4-3 .4-2.9 .4-2.6 .4-2.4 .4-2.3 .4-2 .4-1.8 .3-1.5 .4-1.4 .4-1.1 .4-.8 .4-.6 .4-.4 .4-.2 .4 .1 .4 .4 .4 .6 .4 .8 .4 1 .4 1.3 .3 1.6 .4 1.7 .4 2 .4 2.2 .4 2.4 .4 2.6 .4 2.8 .4 3 .4 3.2 .4 3.4 .1 .8" stroke="#E19C24" stroke-width="4.65"/>
<path d="M178.2,191l1 4.1 1 4 1 3.8 1 3.7 1 3.6 1 3.4 1 3.1 1.1 3 1 2.7 1 2.5 1 2.2 1 2 1 1.6 1 1.4 1 1.1 1 .7 1 .5 1 .1 1-.1 1-.4 1-.8 1-1 1-1.3 1-1.5 1-1.8 1-2.1 1-2.3 1-2.5 1-2.7 1-2.9 1-3.1 1-3.2 1-3.4 1-3.5 1-3.6 1-3.7 1-3.7 1-3.8 1-3.8 1-3.9 1-3.8 1-3.8 1-3.8 1-3.7 1-3.6 1-3.5 1-3.5 1-3.2 1-3.2 1-2.9 1.1-2.8 1-2.7 1-2.4 1-2.2 1-1.9 1-1.8 1-1.5 1-1.2 1-1 1-.7 1-.5 1-.1 1 .1 1 .3 1 .7 1 .9 1 1.2 1 1.4 1 1.7 1 2 1 2.2 1 2.4 1 2.7 1 2.8 1 3.1 1 3.2 1 3.4 1 3.5 1 3.6 1 3.8 1 3.8 1 3.9 1 4 1 3.9 1 4 1 3.9 1 4 1 3.8 1 3.8 1 3.6 1 3.6 1 3.4 1 3.2 1.1 3.1 1 2.9 1 2.6 1 2.5 1 2.2 1 2 1 1.7 1 1.4 1 1.1 1 .9 1 .6 1 .3 1 0 1-.3 1-.5 1-.9 1-1.1 1-1.4 1-1.7 1-1.9 1-2.2 1-2.4 1-2.7 1-2.8 1-3.1 1-3.2 1-3.4 1-3.5 1-3.7 1-3.7 1-3.9 1-3.9 1-3.9 1-4 1-4 1-3.9 1-4 1-3.8 1-3.8 1-3.7 1-3.6 1-3.4 1.1-3.3 1-3.1 1-2.9 1-2.8 1-2.5 1-2.2 1-2.1 1-1.7 1-1.5 1-1.3 1-.9 1-.7 1-.4 1-.1 1 .2 1 .5 1 .7 1 1.1 1 1.3 1 1.6 1 1.9 1 2.1 1 2.3 1 2.6 1 2.8 1 3.1 1 3.2 1 3.3 1 3.5 1 3.7 1 3.8 1 3.8 1 4 1 4 1 4 1 4 1 4 1 4 1 4 1 3.8 1 3.8 1 3.6 1 3.6 1.1 3.3 1 3.2 1 3 1 2.8 1 2.5 1 2.4 1 2 1 1.8 1 1.6 1 1.2 1 1 1 .7 1 .3 1 .1 1-.2 1-.5 1-.9 1-1.1 1-1.4 1-1.7 1-2 1-2.2 1-2.5 1-2.7 1-3 1-3.1 1-3.4 1-3.5 1-3.7 1-3.8 1-3.9 1-4 1-4.1 1-4.1 1-4.2 1-4.1 1-4.2 1-4.1 1-4 1-3.9 1-3.8 1-3.7 1-3.5 1.1-3.4 1-3.1 1-3 1-2.7 1-2.5 1-2.2 1-1.9 1-1.7 1-1.3 1-1.1 1-.8 1-.4 1-.1 1 .2 1 .5 1 .8 1 1.1 1 1.4 1 1.8 1 2 1 2.2 1 2.6 1 2.8 1 3 1 3.3 1 3.4 1 3.6 1 3.8 1 3.9 1 4 1 4.2 1 4.2 1 4.2 1 4.3 1 4.2 1 4.2 1 4.2 1 4.1 1 4 1 3.9 1 3.8 1 3.5 1 3.4 1.1 3.2 1 3 1 2.7 1 2.4 1 2.2 1 1.9 1 1.7 1 1.3 1 .9 1 .7 1 .4 1 0 1-.3 1-.7 1-.9 1-1.3 1-1.6 1-1.9 1-2.1 1-2.5 1-2.7 1-3 1-3.2 1-3.4 1-3.6 1-3.8 1-3.9 1-4.1 1-4.2 1-4.2 1-4.4 1-4.3 1-4.4 1-4.3 1-4.3 1-4.2 1-4.2 1-4 1-3.9 1-3.7 1-3.5 1-3.4 1.1-3.1 1-2.8 1-2.7 1-2.3 1-2 1-1.8 1-1.4 1-1.1 1-.8 1-.5 1-.1 1 .2 1 .6 1 .9 1 1.2 1 1.5 1 1.8 1 2.2 1 2.4 1 2.7 1 2.9 1 3.2 1 3.5 1 3.6 1 3.8 1 4 1 4.1 1 4.2 1 4.3 1 4.4 1 4.4 1 4.4 1 4.4 1 4.4 1 4.3 1 4.2 1 4.1 1 3.9 1 3.8 1 3.6 1 3.4 1 3.2 1 2.9 1.1 2.6 1 2.4 1 2 1 1.8 1 1.4 1 1.2 1 .7 1 .5 1 .1 1-.3 1-.6 1-1 1-1.2 1-1.7 1-1.9 1-2.2 1-2.6 1-2.8 1-3.1 1-3.3 1-3.6 1-3.8 1-3.9 1-4.1 1-4.3 1-4.3 1-4.5 1-4.5 1-4.5 1-4.5 1-4.5 1-4.5 1-4.3 1-4.3 1-4.1 1-4 1-3.8 1-3.5 1-3.4 1-3.1 1-2.8 1-2.5 1-2.3 1.1-1.9 1-1.6 1-1.3 1-.9 1-.5 1-.2 1 .1 1 .5 1 .9 1 1.2 1 1.5 1 1.9 1 2.2 1 2.5 1 2.8 1 3.1 1 3.3 1 3.6 1 3.8 1 4 1 4.1 1 4.3 1 4.4 1 4.5 1 4.6 1 4.5 1 4.6 1 4.6 1 4.5 1 4.5 1 4.3 1 4.2 1 4 1 3.9 1 3.6 1 3.5 1 3.1 1 2.9 1 2.6 1 2.3 1 1.9 1 1.6 1 1.3 1.1 .9 1 .5 1 .2 1-.2 1-.6 1-.9 1-1.3 1-1.6 1-2 1-2.4 1-2.6 1-3 1-3.2 1-3.5 1-3.8 1-4 1-4.1 1-4.4 1-4.4 1-4.6 1-4.7 1-4.7 1-4.7 1-4.7 1-4.7 1-4.6 1-4.5 1-4.4 1-4.2 1-4.1 1-3.8 1-3.6 1-3.3 1-3.1 1-2.7 1-2.4 1-2.1 1-1.8 1-1.4 1-1 1-.6 1-.3 1.1 .1 1 .5 1 .9 1 1.3 1 1.6 1 1.9 1 2.3 1 2.7 1 2.9 1 3.2 1 3.5 1 3.8 1 3.9 1 4.2 1 4.3 1 4.5 1 4.6 1 4.7 1 4.7 1 4.8 1 4.8 1 4.7 1 4.6 1 4.6 1 4.4 1 4.3 1 4.1 1 3.9 1 3.7 1 3.4 1 3.1 1 2.8 1 2.5 1 2.1 1 1.8 1 1.5 1 1 1 .7 1 .2 1-.1 1-.5 1-.9 1-1.3 1.1-1.7 1-2.1 1-2.4 1-2.7 1-3.1 1-3.4 1-3.7 1-3.9 1-4.1 1-4.4 1-4.5 1-4.7 1-4.8 1-4.9 1-4.9 1-5 1-4.9 1-4.8 1-4.8 1-4.7 1-4.5 1-4.3 1-4.1 1-3.9 1-3.6 1-3.3 1-3 1-2.7 1-2.3 1-2 1-1.5 1-1.2 1-.8 1-.4 1 .1 1 .4 1 .9 1 1.2 1 1.6 1 2 1 2.4 1 2.7 1 3 1.1 3.4 1 3.6 1 3.9 1 4.2 1 4.3 1 4.5 1 4.7 1 4.8 1 4.9 1 5 1 4.9 1 5 1 4.9 1 4.8 1 4.7 1 4.6 1 4.4 1 4.2 1 4 1 3.7 1 3.4 1 3.2 1 2.7 1 2.5 1 2 1 1.7 1 1.2 1 .9 1 .4 1 0 1-.4 1-.8 1-1.3 1-1.7 1-2.1 1-2.5 1-2.8 1-3.3 1-3.5 1-3.9 1-4.1 1-4.4 1.1-4.6 1-4.8 1-5 1-5.1 1-5.2 1-5.2 1-5.2 1-5.2 1-5.1 1-5 1-4.9 1-4.7 1-4.4 1-4.3 1-3.9 1-3.6 1-3.4 1-2.9 1-2.5 1-2.2 1-1.7 1-1.4 1-.8 1-.5 1 .1 1 .4 1 1 1 1.3 1 1.8 1 2.2 1 2.6 1 3 1 3.3 1 3.7 1 3.9 1 4.3 1 4.5 1 4.7 1 4.9 1 5 1 5.2 1 5.2 1 5.3 1.1 5.2 1 5.3 1 5.1 1 5 1 4.9 1 4.7 1 4.4 1 4.2 1 4 1 3.6 1 3.2 1 2.9 1 2.5 1 2.1 1 1.7 1 1.2 1 .8 1 .4 1-.2 1-.5 1-1.1 1-1.4 1-2 1-2.3 1-2.7 1-3.2 1-3.5 1-3.8 1-4.2 1-4.5 1-4.7 1-4.9 1-5.1 1-5.2 1-5.3 1-5.5 1-5.4 1-5.4 1-5.4 1-5.2 1-5.1 1-5 1-4.7 1.1-4.5 1-4.2 1-3.8 1-3.6 1-3.1 1-2.7 1-2.4 1-1.8 1-1.5 1-.9 1-.5 1 0 1 .5 1 1 1 1.5 1 1.9 1 2.4 1 2.8 1 3.2 1 3.6 1 3.9 1 4.3 1 4.6 1 4.9 1 5 1 5.3 1 5.4 1 5.5 1 5.6 1 5.6 1 5.6 1 5.5 1 5.4 1 5.2 1 5 1 4.8 1 4.5 1 4.2 1 3.9 1 3.4 1 3.1 1 2.6 1 2.2 1.1 1.8 1 1.2 1 .7 1 .3 1-.3 1-.8 1-1.2 1-1.8 1-2.2 1-2.7 1-3.2 1-3.5 1-3.9 1-4.3 1-4.6 1-4.9 1-5.1 1-5.4 1-5.5 1-5.6 1-5.7 1-5.8 1-5.7 1-5.6 1-5.6 1-5.4 1-5.2 1-4.9 1-4.7 1-4.4 1-4 1-3.6 1-3.2 1-2.8 1-2.3 1-1.8 1-1.3 1-.8 1-.2 1 .2 1 .8 1 1.3 1.1 1.9 1 2.3 1 2.8 1 3.2 1 3.7 1 4.1 1 4.4 1 4.8 1 5.1 1 5.3 1 5.5 1 5.7 1 5.8 1 5.9 1 5.9 1 5.8 1 5.8 1 5.6 1 5.5 1 5.3 1 4.9 1 4.7 1 4.3 1 3.9 1 3.5 1 3.1 1 2.6 1 2.1 1 1.5 1 1.1 1 .5 1-.1 1-.6 1-1.1 1-1.6 1-2.2 1-2.6 1-3.2 1-3.6 1-4 1-4.4 1-4.8 1-5.1 1.1-5.3 1-5.7 1-5.8 1-5.9 1-6 1-6.1 1-6.1 1-6 1-5.9 1-5.7 1-5.5 1-5.3 1-4.9 1-4.6 1-4.2 1-3.7 1-3.3 1-2.8 1-2.2 1-1.7 1-1.1 1-.6 1 .1 1 .6 1 1.3 1 1.7 1 2.4 1 2.9 1 3.4 1 3.9 1 4.4 1 4.7 1 5.2 1 5.5 1 5.7 1 6 1 6.1 1 6.3 1 6.3 1 6.3 1 6.3 1 6.2 1 6 1.1 5.7 1 5.5 1 5.2 1 4.7 1 4.4 1 3.9 1 3.4 1 2.9 1 2.3 1 1.8 1 1.1 1 .6 1-.1 1-.6 1-1.3 1-1.8 1-2.4 1-3 1-3.4 1-4 1-4.4 1-4.9 1-5.2 1-5.6 1-5.9 1-6.1 1-6.2 1-6.4 1-6.5 1-6.5 1-6.4 1-6.4 1-6.1 1-5.9 1-5.7 1-5.3 1-4.9 1-4.4 1-4 1-3.4 1-2.9 1-2.3 1-1.6 1.1-1.1 1-.3 1 .3 1 .9 1 1.6 1 2.2 1 2.8 1 3.4 1 3.9 1 4.5 1 4.9 1 5.3 1 5.8 1 6 1 6.3 1 6.5 1 6.7 1 6.7 1 6.8 1 6.6 1 6.6 1 6.3 1 6.2 1 5.8 1 5.4 1 5 1 4.5 1 4.1 1 3.4 1 2.9 1 2.2 1 1.6 1 .9 1 .3 1-.5 .8-.8 .8-1.2 .8-1.6 .8-2 .8-2.4 .7-2.7 .8-3.2 .8-3.4 .8-3.8 .8-4 .8-4.4 .7-4.5 .8-4.8 .8-5 .8-5.2 .8-5.2 .8-5.4 .8-5.4 .7-5.5 .8-5.5 .8-5.4 .8-5.3 .8-5.3 .8-5.1 .7-4.9 .8-4.8 .8-4.4 .8-4.3 .8-3.9 .8-3.6 .7-3.3 .8-2.9 .8-2.5 .8-2.1 .8-1.7 .8-1.3 .8-.9 .7-.3 .8 0 .8 .5 .8 1 .8 1.4 .8 1.8 .7 2.2 .8 2.6 .8 3 .8 3.4 .8 3.7 .8 4 .8 4.3 .7 4.6 .8 4.9 .8 5 .8 5.3 .8 5.4 .8 5.5 .7 5.5 .8 5.7 .8 5.6 .8 5.6 .8 5.5 .8 5.4 .8 5.3 .7 5.1 .8 5 .8 4.6 .8 4.4 .8 4.2 .8 3.7 .7 3.5 .8 3 .8 2.6 .8 2.3 .8 1.8 .8 1.3 .7 .9 .8 .4 .8-.1 .8-.6 .8-1 .8-1.5 .8-2 .7-2.4 .8-2.9 .8-3.2 .8-3.7 .8-4.1 .8-4.4 .7-4.7 .8-5 .8-5.2 .8-5.5 .8-5.7 .8-5.8 .8-5.9 .7-5.9 .8-6 .8-5.9 .8-5.9 .8-5.7 .8-5.6 .7-5.4 .8-5.2 .8-4.9 .8-4.6 .8-4.3 .8-3.8 .8-3.5 .7-3.1 .8-2.6 .8-2.2 .8-1.7 .8-1.2 .8-.7 .7-.2 .8 .3 .8 .8 .8 1.3 .8 1.7 .8 2.2 .7 2.7 .8 3.1 .8 3.5 .8 3.9 .8 4.2 .8 4.6 .8 4.9 .7 5.1 .8 5.4 .8 5.6 .8 5.7 .8 5.9 .8 5.9 .7 6 .8 6 .8 6 .8 5.8 .8 5.8 .8 5.6 .8 5.4 .7 5.2 .8 4.9 .8 4.5 .8 4.3 .8 3.8 .8 3.5 .7 3 .8 2.6 .8 2.1 .8 1.5 .8 1.1 .8 .5 .8 0 .7-.5 .8-1.1 .8-1.7 .8-2.2 .8-2.7 .8-3.2 .7-3.7 .8-4.2 .8-4.6 .8-5 .8-5.3 .8-5.7 .7-5.9 .8-6.2 .8-6.4 .8-6.5 .8-6.6 .8-6.6 .8-6.6 .7-6.4 .8-6.4 .8-6.2 .8-5.9 .8-5.7 .8-5.3 .7-4.9 .8-4.6 .8-4 .8-3.6 .8-3.1 .8-2.5 .8-1.9 .7-1.4 .8-.8 .8-.2 .8 .5 .8 1 .8 1.6 .7 2.1 .8 2.7 .8 3.3 .8 3.7 .8 4.3 .8 4.6 .8 5.1 .7 5.4 .8 5.8 .8 6 .8 6.3 .8 6.4 .8 6.6 .7 6.6 .8 6.7 .8 6.6 .8 6.6 .8 6.4 .8 6.2 .7 6 .8 5.7 .8 5.4 .8 5 .8 4.6 .8 4.2 .8 3.6 .7 3.2 .8 2.6 .8 2 .8 1.4 .8 .9 .8 .2 .7-.4 .8-1.1 .8-1.6 .8-2.3 .8-2.8 .8-3.4 .8-4 .7-4.4 .8-5 .8-5.4 .8-5.8 .8-6.1 .8-6.5 .7-6.7 .8-6.9 .8-7.1 .8-7.1 .8-7.1 .8-7.1 .8-7 .7-6.9 .8-6.6 .8-6.2 .8-6 .8-5.5 .8-5.1 .7-4.6 .8-4 .8-3.5 .8-2.8 .8-2.1 .8-1.5 .7-.8 .8 0 .8 .6 .8 1.4 .8 2.1 .8 2.8 .8 3.4 .7 4.1 .8 4.7 .8 5.2 .8 5.8 .8 6.3 .8 6.6 .7 7 .8 7.3 .8 7.6 .8 7.6 .8 7.8 .8 7.7 .8 7.7 .7 7.5 .8 7.3 .8 7 .8 6.6 .8 6.2 .8 5.7 .7 5.2 .8 4.5 .8 3.8 .8 3.2 .8 2.4 .8 1.6 .8 .9 .7 0 .8-.8 .8-1.6 .8-2.4 .8-3.2 .8-3.9 .7-4.7 .8-5.3 .8-5.9 .8-6.6 .8-7 .8-7.4 .7-7.8 .8-8.1 .8-8.3 .8-8.4 .8-8.4 .8-8.3 .8-8.2 .7-7.9 .8-7.6 .8-7.1 .8-6.7 .8-6.1 .8-5.5 .7-4.8 .8-4 .8-3.2 .8-2.4 .8-1.5 .8-.6 .8 .3 .7 1.3 .8 2.1 .8 3 .8 3.9 .8 4.6 .8 5.5 .7 6.2 .8 6.8 .8 7.4 .8 7.9 .8 8.3 .8 8.7 .8 8.8 .3 4.5 .4 4.5 .4 4.5 .4 4.5 .4 4.5 .4 4.5 .4 4.4 .4 4.3 .4 4.3 .4 4.2 .4 4.1 .4 4 .3 3.8 .4 3.8 .4 3.6 .4 3.4 .4 3.3 .4 3.1 .4 2.9 .4 2.7 .4 2.5 .4 2.3 .4 2.1 .4 1.8 .4 1.7 .3 1.3 .4 1.2 .4 .9 .4 .6 .4 .4 .4 .1 .4-.2 .4-.4 .4-.6 .4-1 .4-1.2 .4-1.4 .4-1.7 .3-1.9 .4-2.2 .4-2.5 .4-2.6 .4-2.9 .4-3.1 .4-3.4 .4-3.5 .4-3.7 .4-3.9 .4-4.1 .4-4.2 .4-4.4 .3-4.5 .4-4.6 .4-4.7 .4-4.8 .4-4.9 .4-5 .4-5 .4-5 .4-5.1 .4-5 .4-5 .4-5 .4-4.9 .3-4.9 .4-4.8 .4-4.7 .4-4.5 .4-4.4 .4-4.3 .4-4.1 .4-4 .4-3.7 .4-3.5 .4-3.3 .4-3.1 .4-2.8 .3-2.6 .4-2.3 .4-2 .4-1.8 .4-1.4 .4-1.1 .4-.9 .4-.5 .4-.2 .4 .1 .4 .5 .4 .7 .3 1.1 .4 1.4 .4 1.8 .4 2 .4 2.3 .4 2.7 .4 2.9 .4 3.2 .4 3.5 .4 3.8 .4 4 .4 4.3 .4 4.4 .3 4.7 .4 4.9 .4 5 .4 5.2 .4 5.4 .4 5.5 .4 5.5 .4 5.7 .4 5.7 .4 5.7 .1 1.3" stroke="#000" stroke-width="4.65" stroke-dasharray="2.2 8.47"/>
</g>
<g stroke="#222" stroke-width="1.45" fill="none">
<rect x="178.40" y="25.20" width="1464.70" height="292.60"/>
<path d="M247.96,317.80v-5.60M247.96,25.20v5.60M335.12,317.80v-5.60M335.12,25.20v5.60M422.28,317.80v-5.60M422.28,25.20v5.60M509.44,317.80v-5.60M509.44,25.20v5.60M596.60,317.80v-9.70M596.60,25.20v9.70M683.76,317.80v-5.60M683.76,25.20v5.60M770.92,317.80v-5.60M770.92,25.20v5.60M858.08,317.80v-5.60M858.08,25.20v5.60M945.24,317.80v-5.60M945.24,25.20v5.60M1032.40,317.80v-9.70M1032.40,25.20v9.70M1119.56,317.80v-5.60M1119.56,25.20v5.60M1206.72,317.80v-5.60M1206.72,25.20v5.60M1293.88,317.80v-5.60M1293.88,25.20v5.60M1381.04,317.80v-5.60M1381.04,25.20v5.60M1468.20,317.80v-9.70M1468.20,25.20v9.70M1555.36,317.80v-5.60M1555.36,25.20v5.60M1642.52,317.80v-5.60M1642.52,25.20v5.60"/>
<path d="M178.40,315.15h5.60M1643.10,315.15h-5.60M178.40,300.65h5.60M1643.10,300.65h-5.60M178.40,286.15h5.60M1643.10,286.15h-5.60M178.40,271.65h5.60M1643.10,271.65h-5.60M178.40,257.15h9.70M1643.10,257.15h-9.70M178.40,242.65h5.60M1643.10,242.65h-5.60M178.40,228.15h5.60M1643.10,228.15h-5.60M178.40,213.65h5.60M1643.10,213.65h-5.60M178.40,199.15h5.60M1643.10,199.15h-5.60M178.40,184.65h9.70M1643.10,184.65h-9.70M178.40,170.15h5.60M1643.10,170.15h-5.60M178.40,155.65h5.60M1643.10,155.65h-5.60M178.40,141.15h5.60M1643.10,141.15h-5.60M178.40,126.65h5.60M1643.10,126.65h-5.60M178.40,112.15h9.70M1643.10,112.15h-9.70M178.40,97.65h5.60M1643.10,97.65h-5.60M178.40,83.15h5.60M1643.10,83.15h-5.60M178.40,68.65h5.60M1643.10,68.65h-5.60M178.40,54.15h5.60M1643.10,54.15h-5.60M178.40,39.65h9.70M1643.10,39.65h-9.70"/>
</g>
<g font-size="25.60" text-anchor="middle">
<text x="596.60" y="347.50">6000</text>
<text x="1032.40" y="347.50">6500</text>
<text x="1468.20" y="347.50">7000</text>
</g>
<g font-size="25.60" text-anchor="end">
<text x="171.30" y="48.85">0.02</text>
<text x="171.30" y="121.35">0.01</text>
<text x="171.30" y="193.85">0.00</text>
<text x="171.30" y="266.35">−0.01</text>
</g>
<g clip-path="url(#c2)" fill="none" stroke-linejoin="round">
<path d="M197.30,582.30H1645.10" stroke="#ABABAB" stroke-width="4.8" stroke-dasharray="1.9 4.51" fill="none"/>
<path d="M190,588.7l1 4 1 3.9 1 3.8 1 3.7 1 3.6 1 3.3 1 3.2 1 2.9 1 2.7 1 2.5 1 2.2 1 1.9 1 1.7 1 1.3 1 1.1 .9 .8 1 .4 1 .2 1-.2 1-.4 1-.7 1-1 1-1.3 1-1.5 1-1.8 1-2.1 1-2.3 1-2.5 1-2.6 1-2.9 1-3.1 1-3.2 1-3.4 1-3.4 1-3.6 1-3.7 1-3.7 1-3.8 .9-3.8 1-3.8 1-3.8 1-3.8 1-3.7 1-3.7 1-3.6 1-3.5 1-3.4 1-3.3 1-3.1 1-2.9 1-2.8 1-2.6 1-2.4 1-2.2 1-2 1-1.7 1-1.5 1-1.2 1-1 1-.7 1-.4 .9-.2 1 .1 1 .3 1 .7 1 .9 1 1.2 1 1.4 1 1.7 1 2 1 2.1 1 2.5 1 2.6 1 2.8 1 3.1 1 3.2 1 3.3 1 3.5 1 3.6 1 3.8 1 3.8 1 3.8 1 4 1 3.9 .9 3.9 1 4 1 3.9 1 3.8 1 3.7 1 3.7 1 3.5 1 3.4 1 3.2 1 3.1 1 2.8 1 2.7 1 2.4 1 2.2 1 1.9 1 1.7 1 1.4 1 1.2 1 .9 1 .5 1 .3 1 .1 1-.3 .9-.6 1-.8 1-1.2 1-1.4 1-1.6 1-2 1-2.1 1-2.4 1-2.7 1-2.8 1-3 1-3.2 1-3.4 1-3.5 1-3.6 1-3.7 1-3.9 1-3.8 1-4 1-3.9 1-4 1-3.9 1-3.9 .9-3.9 1-3.7 1-3.7 1-3.5 1-3.5 1-3.2 1-3.1 1-2.9 1-2.7 1-2.5 1-2.3 1-2 1-1.7 1-1.5 1-1.3 1-.9 1-.7 1-.4 1-.1 1 .2 1 .5 1 .7 1 1.1 .9 1.3 1 1.6 1 1.8 1 2.2 1 2.3 1 2.6 1 2.8 1 3 1 3.1 1 3.4 1 3.5 1 3.6 1 3.8 1 3.8 1 3.9 1 4 1 4 1 4 1 4 1 4 1 3.9 1 3.8 1 3.7 .9 3.7 1 3.5 1 3.3 1 3.2 1 2.9 1 2.8 1 2.5 1 2.3 1 2.1 1 1.8 1 1.5 1 1.3 1 .9 1 .7 1 .4 1 .1 1-.3 1-.5 1-.8 1-1.1 1-1.4 1-1.7 1-2 .9-2.2 1-2.5 1-2.7 1-2.9 1-3.2 1-3.3 1-3.5 1-3.6 1-3.8 1-3.9 1-4 1-4.1 1-4.1 1-4.1 1-4.1 1-4.1 1-4.1 1-4 1-3.9 1-3.8 1-3.6 1-3.5 1-3.4 1-3.1 .9-2.9 1-2.7 1-2.5 1-2.2 1-1.9 1-1.7 1-1.3 1-1.1 1-.7 1-.5 1-.1 1 .2 1 .5 1 .8 1 1.1 1 1.4 1 1.7 1 2 1 2.3 1 2.5 1 2.8 1 3 1 3.2 .9 3.5 1 3.6 1 3.7 1 3.9 1 4 1 4.1 1 4.2 1 4.2 1 4.2 1 4.3 1 4.2 1 4.1 1 4.1 1 4 1 3.8 1 3.8 1 3.5 1 3.4 1 3.1 1 3 1 2.7 1 2.4 1 2.2 .9 1.9 1 1.6 1 1.3 1 1 1 .6 1 .4 1 0 1-.3 1-.6 1-1 1-1.3 1-1.5 1-1.9 1-2.2 1-2.4 1-2.7 1-3 1-3.1 1-3.4 1-3.6 1-3.8 1-3.9 1-4 .9-4.2 1-4.2 1-4.3 1-4.3 1-4.4 1-4.3 1-4.2 1-4.3 1-4.1 1-4 1-3.8 1-3.7 1-3.5 1-3.3 1-3.1 1-2.9 1-2.6 1-2.3 1-2 1-1.8 1-1.4 1-1.1 1-.8 .9-.4 1-.1 1 .2 1 .5 1 .9 1 1.2 1 1.5 1 1.8 1 2.1 1 2.5 1 2.6 1 3 1 3.2 1 3.4 1 3.6 1 3.7 1 4 1 4.1 1 4.2 1 4.2 1 4.4 1 4.4 1 4.4 .9 4.3 1 4.4 1 4.2 1 4.2 1 4.1 1 3.9 1 3.8 1 3.6 1 3.3 1 3.2 1 2.9 1 2.6 1 2.4 1 2 1 1.8 1 1.4 1 1.1 1 .8 1 .4 1 .1 1-.3 1-.6 1-.9 .9-1.3 1-1.6 1-1.9 1-2.3 1-2.5 1-2.8 1-3.1 1-3.3 1-3.5 1-3.8 1-3.9 1-4.1 1-4.2 1-4.3 1-4.4 1-4.5 1-4.5 1-4.5 1-4.5 1-4.4 1-4.3 1-4.3 1-4.1 .9-3.9 1-3.8 1-3.5 1-3.3 1-3.1 1-2.8 1-2.6 1-2.2 1-1.9 1-1.6 1-1.2 1-.9 1-.6 1-.2 1 .2 1 .5 1 .8 1 1.2 1 1.6 1 1.8 1 2.2 1 2.5 1 2.8 .9 3 1 3.4 1 3.5 1 3.8 1 3.9 1 4.1 1 4.3 1 4.4 1 4.4 1 4.6 1 4.5 1 4.6 1 4.5 1 4.5 1 4.4 1 4.4 1 4.1 1 4 1 3.9 1 3.6 1 3.4 1 3.1 1 2.9 .9 2.6 1 2.2 1 2 1 1.6 1 1.2 1 .9 1 .6 1 .1 1-.2 1-.5 1-1 1-1.3 1-1.6 1-2 1-2.3 1-2.6 1-3 1-3.2 1-3.5 1-3.7 1-4 1-4.1 1-4.3 1-4.4 .9-4.6 1-4.6 1-4.7 1-4.7 1-4.7 1-4.6 1-4.6 1-4.5 1-4.4 1-4.2 1-4 1-3.8 1-3.5 1-3.4 1-3 1-2.7 1-2.4 1-2.1 1-1.7 1-1.4 1-1 1-.7 1-.2 .9 .1 1 .5 1 .9 1 1.2 1 1.6 1 1.9 1 2.3 1 2.6 1 3 1 3.2 1 3.4 1 3.8 1 3.9 1 4.1 1 4.3 1 4.5 1 4.6 1 4.6 1 4.7 1 4.8 1 4.7 1 4.7 1 4.6 .9 4.6 1 4.4 1 4.2 1 4.1 1 3.9 1 3.6 1 3.4 1 3.1 1 2.8 1 2.5 1 2.1 1 1.8 1 1.4 1 1 1 .7 1 .3 1-.2 1-.5 1-.9 1-1.3 1-1.7 1-2 1-2.4 .9-2.7 1-3.1 1-3.4 1-3.6 1-3.9 1-4.1 1-4.4 1-4.5 1-4.6 1-4.8 1-4.8 1-4.9 1-5 1-4.8 1-4.9 1-4.7 1-4.7 1-4.4 1-4.3 1-4.1 1-3.9 1-3.6 1-3.2 .9-3 1-2.7 1-2.3 1-1.9 1-1.6 1-1.1 1-.8 1-.4 1 0 1 .5 1 .8 1 1.2 1 1.7 1 1.9 1 2.4 1 2.7 1 3 1 3.3 1 3.7 1 3.8 1 4.1 1 4.4 1 4.5 .9 4.6 1 4.8 1 4.8 1 5 1 4.9 1 4.9 1 4.9 1 4.8 1 4.7 1 4.5 1 4.4 1 4.2 1 4 1 3.6 1 3.4 1 3.1 1 2.8 1 2.4 1 2 1 1.7 1 1.3 1 .8 1 .4 .9 0 1-.4 1-.8 1-1.3 1-1.7 1-2 1-2.5 1-2.9 1-3.1 1-3.6 1-3.8 1-4.1 1-4.4 1-4.6 1-4.8 1-4.9 1-5.1 1-5.1 1-5.2 1-5.2 1-5.1 1-5.1 1-5 .9-4.8 1-4.7 1-4.4 1-4.2 1-4 1-3.6 1-3.3 1-2.9 1-2.5 1-2.2 1-1.7 1-1.3 1-.9 1-.4 1 0 1 .5 1 .9 1 1.4 1 1.7 1 2.2 1 2.6 1 3 1 3.3 .9 3.6 1 4 1 4.2 1 4.5 1 4.6 1 4.9 1 5 1 5.1 1 5.2 1 5.3 1 5.2 1 5.2 1 5.1 1 5 1 4.8 1 4.7 1 4.4 1 4.2 1 3.9 1 3.6 1 3.2 1 2.9 1 2.5 .9 2 1 1.7 1 1.2 1 .8 1 .4 1-.1 1-.6 1-1 1-1.5 1-1.9 1-2.3 1-2.8 1-3.1 1-3.5 1-3.8 1-4.1 1-4.5 1-4.6 1-4.9 1-5.1 1-5.2 1-5.3 1-5.4 .9-5.4 1-5.4 1-5.3 1-5.2 1-5.1 1-4.9 1-4.7 1-4.5 1-4.1 1-3.9 1-3.5 1-3.1 1-2.7 1-2.3 1-1.9 1-1.4 1-.9 1-.5 1 0 1 .5 1 1 1 1.4 1 1.9 1 2.4 .9 2.8 1 3.2 1 3.5 1 4 1 4.2 1 4.6 1 4.8 1 5.1 1 5.2 1 5.4 1 5.5 1 5.5 1 5.6 1 5.5 1 5.5 1 5.3 1 5.2 1 5 1 4.8 1 4.4 1 4.2 1 3.9 1 3.4 .9 3.1 1 2.6 1 2.2 1 1.7 1 1.2 1 .7 1 .3 1-.3 1-.8 1-1.2 1-1.8 1-2.2 1-2.7 1-3.1 1-3.5 1-3.9 1-4.3 1-4.5 1-4.9 1-5.1 1-5.3 1-5.5 1-5.6 .9-5.7 1-5.7 1-5.6 1-5.7 1-5.5 1-5.3 1-5.2 1-4.9 1-4.7 1-4.3 1-4 1-3.6 1-3.2 1-2.7 1-2.3 1-1.8 1-1.3 1-.8 1-.2 1 .2 1 .8 1 1.3 1 1.8 .9 2.3 1 2.8 1 3.2 1 3.7 1 4 1 4.5 1 4.7 1 5.1 1 5.3 1 5.4 1 5.7 1 5.8 1 5.8 1 5.8 1 5.9 1 5.7 1 5.6 1 5.4 1 5.2 1 5 1 4.6 1 4.3 1 3.9 .9 3.5 1 3 1 2.6 1 2.1 1 1.5 1 1.1 1 .5 1-.1 1-.6 1-1.1 1-1.6 1-2.2 1-2.6 1-3.1 1-3.6 1-4 1-4.4 1-4.7 1-5.1 1-5.3 1-5.6 1-5.8 1-5.9 .9-6 1-6 1-6 1-6 1-5.9 1-5.6 1-5.5 1-5.2 1-4.9 1-4.6 1-4.2 1-3.7 1-3.2 1-2.8 1-2.2 1-1.7 1-1.1 1-.6 1 .1 1 .6 1 1.2 1 1.8 1 2.4 .9 2.9 1 3.4 1 3.8 1 4.4 1 4.7 1 5.1 1 5.4 1 5.8 1 5.9 1 6.1 1 6.2 1 6.3 1 6.3 1 6.2 1 6.1 1 6 1 5.7 1 5.5 1 5.1 1 4.8 1 4.3 1 3.9 1 3.4 .9 2.8 1 2.3 1 1.8 1 1.1 1 .6 1-.1 1-.6 1-1.3 1-1.8 1-2.4 1-2.9 1-3.5 1-3.9 1-4.4 1-4.8 1-5.2 1-5.6 1-5.8 1-6.1 1-6.2 1-6.4 1-6.4 1-6.5 .9-6.3 1-6.3 1-6.1 1-5.9 1-5.6 1-5.3 1-4.9 1-4.4 1-3.9 1-3.4 1-2.9 1-2.3 1-1.6 1-1 1-.4 1 .3 1 .9 1 1.6 1 2.2 1 2.8 1 3.3 1 3.9 1 4.5 .9 4.9 1 5.3 1 5.7 1 6 1 6.3 1 6.4 1 6.6 1 6.7 1 6.7 1 6.6 1 6.6 1 6.3 1 6.1 1 5.7 1 5.4 1 5 1 4.5 1 4 1 3.5 1 2.8 1 2.2 1 1.6 1 .9 1 .3 .9-.5 .8-.8 .8-1.2 .8-1.6 .8-2 .7-2.4 .8-2.7 .8-3.1 .8-3.4 .8-3.8 .7-4 .8-4.3 .8-4.5 .8-4.8 .8-5 .7-5.1 .8-5.2 .8-5.3 .8-5.4 .8-5.5 .7-5.4 .8-5.4 .8-5.3 .8-5.2 .7-5.1 .8-4.9 .8-4.7 .8-4.5 .8-4.2 .7-3.9 .8-3.6 .8-3.2 .8-2.9 .8-2.5 .7-2.1 .8-1.7 .8-1.3 .8-.8 .8-.4 .7 .1 .8 .5 .8 .9 .8 1.4 .8 1.8 .7 2.2 .8 2.6 .8 3 .8 3.3 .7 3.7 .8 4 .8 4.3 .8 4.6 .8 4.8 .7 5 .8 5.2 .8 5.4 .8 5.4 .8 5.6 .7 5.6 .8 5.5 .8 5.6 .8 5.5 .8 5.4 .7 5.3 .8 5 .8 4.9 .8 4.7 .8 4.4 .7 4 .8 3.8 .8 3.4 .8 3 .7 2.7 .8 2.2 .8 1.7 .8 1.4 .8 .8 .7 .4 .8-.1 .8-.5 .8-1 .8-1.5 .7-2 .8-2.4 .8-2.8 .8-3.3 .8-3.6 .7-4.1 .8-4.3 .8-4.7 .8-5 .8-5.2 .7-5.5 .8-5.6 .8-5.7 .8-5.9 .8-5.9 .7-5.9 .8-5.9 .8-5.9 .8-5.7 .7-5.5 .8-5.4 .8-5.2 .8-4.8 .8-4.6 .7-4.2 .8-3.9 .8-3.5 .8-3 .8-2.6 .7-2.2 .8-1.6 .8-1.2 .8-.7 .8-.2 .7 .3 .8 .8 .8 1.2 .8 1.8 .8 2.2 .7 2.6 .8 3.1 .8 3.5 .8 3.8 .7 4.2 .8 4.6 .8 4.8 .8 5.1 .8 5.4 .7 5.5 .8 5.7 .8 5.9 .8 5.9 .8 5.9 .7 6 .8 5.9 .8 5.8 .8 5.8 .8 5.5 .7 5.4 .8 5.1 .8 4.9 .8 4.5 .8 4.2 .7 3.9 .8 3.4 .8 3 .8 2.6 .7 2 .8 1.6 .8 1.1 .8 .5 .8 0 .7-.6 .8-1.1 .8-1.6 .8-2.2 .8-2.7 .7-3.2 .8-3.7 .8-4.1 .8-4.6 .8-4.9 .7-5.3 .8-5.7 .8-5.9 .8-6.1 .8-6.4 .7-6.4 .8-6.6 .8-6.5 .8-6.6 .8-6.4 .7-6.4 .8-6.1 .8-5.9 .8-5.6 .7-5.3 .8-4.9 .8-4.5 .8-4.1 .8-3.5 .7-3 .8-2.5 .8-2 .8-1.3 .8-.8 .7-.2 .8 .4 .8 1 .8 1.6 .8 2.2 .7 2.7 .8 3.2 .8 3.7 .8 4.2 .8 4.7 .7 5 .8 5.4 .8 5.7 .8 6 .7 6.2 .8 6.4 .8 6.5 .8 6.6 .8 6.7 .7 6.6 .8 6.5 .8 6.3 .8 6.2 .8 6 .7 5.7 .8 5.3 .8 5 .8 4.6 .8 4.1 .7 3.6 .8 3.2 .8 2.5 .8 2.1 .8 1.4 .7 .8 .8 .2 .8-.4 .8-1 .7-1.7 .8-2.2 .8-2.8 .8-3.4 .8-3.9 .7-4.5 .8-4.9 .8-5.3 .8-5.8 .8-6.1 .7-6.5 .8-6.6 .8-6.9 .8-7 .8-7.1 .7-7.1 .8-7 .8-7 .8-6.8 .8-6.5 .7-6.3 .8-5.9 .8-5.5 .8-5.1 .8-4.5 .7-4 .8-3.4 .8-2.8 .8-2.1 .7-1.5 .8-.8 .8 0 .8 .6 .8 1.4 .7 2.1 .8 2.7 .8 3.4 .8 4.1 .8 4.7 .7 5.2 .8 5.7 .8 6.2 .8 6.7 .8 6.9 .7 7.3 .8 7.5 .8 7.6 .8 7.7 .8 7.7 .7 7.6 .8 7.5 .8 7.2 .8 7 .7 6.6 .8 6.1 .8 5.7 .8 5.1 .8 4.5 .7 3.8 .8 3.1 .8 2.4 .8 1.6 .8 .9 .7 0 .8-.8 .8-1.6 .8-2.4 .8-3.1 .7-3.9 .8-4.7 .8-5.2 .8-6 .8-6.4 .7-7 .8-7.4 .8-7.8 .8-8 .7-8.2 .8-8.3 .8-8.4 .8-8.3 .8-8.1 .7-7.9 .8-7.5 .8-7.1 .8-6.7 .8-6 .7-5.5 .8-4.7 .8-4 .8-3.2 .8-2.4 .7-1.4 .8-.6 .8 .3 .8 1.2 .8 2.1 .7 3 .8 3.8 .8 4.7 .8 5.4 .8 6.1 .7 6.8 .8 7.4 .8 7.8 .8 8.3 .7 8.6 .8 8.8 .4 4.4 .4 4.5 .4 4.5 .4 4.5 .4 4.4 .4 4.5 .4 4.3 .3 4.4 .4 4.2 .4 4.2 .4 4.1 .4 3.9 .4 3.9 .4 3.7 .4 3.5 .4 3.5 .3 3.2 .4 3.1 .4 2.9 .4 2.7 .4 2.5 .4 2.3 .4 2 .4 1.9 .4 1.6 .4 1.3 .3 1.2 .4 .9 .4 .6 .4 .3 .4 .2 .4-.2 .4-.4 .4-.7 .4-.9 .4-1.2 .3-1.4 .4-1.7 .4-1.9 .4-2.2 .4-2.4 .4-2.7 .4-2.8 .4-3.1 .4-3.3 .3-3.5 .4-3.7 .4-3.9 .4-4 .4-4.2 .4-4.4 .4-4.4 .4-4.6 .4-4.7 .4-4.8 .3-4.9 .4-4.9 .4-5 .4-5 .4-5 .4-5 .4-5 .4-5 .4-4.9 .4-4.8 .3-4.7 .4-4.7 .4-4.5 .4-4.4 .4-4.3 .4-4.1 .4-3.9 .4-3.7 .4-3.5 .3-3.3 .4-3 .4-2.8 .4-2.6 .4-2.3 .4-2 .4-1.7 .4-1.4 .4-1.2 .4-.8 .3-.5 .4-.2 .4 .1 .4 .5 .4 .7 .4 1.1 .4 1.4 .4 1.7 .4 2 .3 2.4 .4 2.6 .4 2.9 .4 3.2 .4 3.5 .4 3.7 .4 4 .4 4.2 .4 4.5 .4 4.6 .3 4.9 .4 5 .4 5.2 .4 5.3 .4 5.4 .4 5.5 .4 5.7 .4 5.6 .4 5.7 .4 5.7 .3 5.8 .4 5.6 .4 5.7 .4 5.5 .4 5.5 .4 5.3 .4 5.2 .4 5.1 .4 4.9 .3 4.6 .4 4.5 .4 4.2 .4 3.9 .4 3.7 .4 3.4 .4 3.1 .4 2.7 .4 2.4 .4 2.1 .3 1.7 .4 1.4 .4 1 .4 .6 .4 .2 .4-.1 .4-.6 .4-.9 .4-1.4 .4-1.7 .3-2.1 .4-2.4 .4-2.9 .4-3.2 .4-3.5 .4-3.9 .4-4.3 .4-4.5 .4-4.8 .3-5.1 .4-5.4 .4-5.6 .4-5.9 .4-6 .4-6.2 .4-6.4 .4-6.5 .4-6.6 .4-6.7 .3-6.7 .4-6.7 .4-6.7 .4-6.7 .4-6.5 .4-6.5 .4-6.3 .4-6.2 .4-5.9 .3-5.7 .4-5.4 .4-5.2 .4-4.8 .4-4.4 .4-4 .4-3.6 .4-3.2 .4-2.7 .4-2.2 .3-1.7 .4-1.1 .4-.6 .4-.1 .4 .5 .4 1.2 .4 1.7 .4 2.3 .4 2.8 .4 3.5 .3 4 .4 4.6 .4 5 .4 5.6 .4 6.1 .4 6.5 .4 7 .4 7.3 .4 7.6 .3 7.9 .4 8.2 .4 8.3 .4 8.5 .4 8.5 .4 8.6 .4 8.6 .4 8.5 .4 8.3 .4 8.1 .3 7.9 .4 7.6 .4 7.2 .4 6.8 .4 6.3 .4 5.8 .4 5.3 .4 4.7 .4 4.1 .4 3.4 .3 2.8 .4 2 .4 1.4 .4 .6 .4-.1 .4-.8 .4-1.6 .4-2.3 .4-3 .3-3.7 .4-4.4 .4-5.1 .4-5.8 .4-6.4 .4-7.1 .4-7.6 .4-8.2 .4-8.8 .4-9.2 .3-9.6 .4-10.1 .4-10.3 .4-10.6 .4-10.8 .4-10.8 .4-10.9 .4-10.8 .4-10.6 .3-10.4 .4-10 .4-9.5 .4-8.8 .4-8.2 .4-7.3 .4-6.3 .4-5.3 .4-4 .4-2.8 .3-1.3 .4 .1 .4 1.6 .4 3.2 .4 4.9 .4 6.5 .4 8 .4 9.7 .4 11.1 .4 12.6 .3 13.7 .4 14.8 .4 15.7 .4 16.3 .4 16.7 .4 16.8 .4 16.6 .4 16.1 .4 15.3 .3 14.2 .4 12.8 .4 11.1 .4 9.1 .4 7 .4 4.6 .4 2.2 .4-.5 .4-3.2 .4-5.8 .3-8.4 .4-10.9 .4-13 .4-14.9 .4-16.5 .4-17.8 .4-18.6 .4-19 .4-19 .4-18.6 .3-17.7 .4-16.4 .4-14.8 .4-12.8 .4-10.5 .4-8 .4-5.3 .4-2.5 .4 .4 .3 3.4 .4 6.4 .4 9 .4 11.4 .4 13.4 .4 14.9 .4 15.9 .4 16.5 .4 16.4 .4 15.8 .3 14.9 .4 13.4 .4 11.7 .4 9.6 .4 7.3 .4 5 .4 2.4 .4-.1 .4-2.6 .3-4.8 .4-6.9 .4-8.4 .4-9.7 .4-10.4 .4-10.7 .4-10.7 .4-10.2 .4-9.3 .4-8.3 .3-6.9 .4-5.5 .4-4 .4-2.4 .4-.9 .4 .5 .4 1.9 .4 2.9 .4 3.9 .4 4.6 .3 5.1 .4 5.3 .4 5.3 .4 5.3 .4 4.8 .4 4.5 .4 3.8 .4 3.2 .4 2.4 .3 1.7 .4 1 .4 .3 .4-.4 .4-1 .4-1.5 .4-2 .4-2.3 .4-2.5 .4-2.6 .3-2.6 .4-2.6 .4-2.4 .4-2.2 .4-1.9 .4-1.6 .4-1.2 .4-.8 .4-.5 .4-.1 .3 .2 .4 .6 .4 .7 .4 1 .4 1.2 .4 1.3 .4 1.3 .4 1.4 .4 1.3 .3 1.3 .4 1.1 .4 1 .4 .8 .4 .7 .4 .4 .4 .2 .4 0 .4-.1 .4-.4 .3-.4 .4-.6 .4-.7 .4-.7 .4-.8 .4-.7 .4-.7 .4-.6 .4-.5 .3-.5 .4-.3 .4-.3 .4-.2 .4 0 .4 0 .4 .1 .4 .2 .4 .3 .4 .2 .3 .4 .4 .3 .4 .3 .4 .4 .4 .3 .4 .3 .4 .2 .4 .2 .4 .2 .4 .2 3.4-.6 3.5-1.2 3.4 .6 3.5 .5 3.5-.5 3.4-.1 3.5 .2 3.5 .1 3.4-.1 3.5-.1 3.4 .1 3.5 0 3.5 0 3.4 0 3.5 0 3.5 0 3.4 0 3.5 0 3.5 0 3.4 0 3.5 0 3.4 0 3.5 0 3.5 0 3.4 0 3.5 0 3.5 0 1.6 0" stroke="#000" stroke-width="4.65"/>
<path d="M190,588.7l1 4 1 3.9 1 3.8 1 3.7 1 3.6 1 3.3 1 3.2 1 2.9 1 2.7 1 2.5 1 2.2 1 1.9 1 1.7 1 1.3 1 1.1 .9 .8 1 .4 1 .2 1-.2 1-.4 1-.7 1-1 1-1.3 1-1.5 1-1.8 1-2.1 1-2.3 1-2.5 1-2.6 1-2.9 1-3.1 1-3.2 1-3.4 1-3.4 1-3.6 1-3.7 1-3.7 1-3.8 .9-3.8 1-3.8 1-3.8 1-3.8 1-3.7 1-3.7 1-3.6 1-3.5 1-3.4 1-3.3 1-3.1 1-2.9 1-2.8 1-2.6 1-2.4 1-2.2 1-2 1-1.7 1-1.5 1-1.2 1-1 1-.7 1-.4 .9-.2 1 .1 1 .3 1 .7 1 .9 1 1.2 1 1.4 1 1.7 1 2 1 2.1 1 2.5 1 2.6 1 2.8 1 3.1 1 3.2 1 3.3 1 3.5 1 3.6 1 3.8 1 3.8 1 3.8 1 4 1 3.9 .9 3.9 1 4 1 3.9 1 3.8 1 3.7 1 3.7 1 3.5 1 3.4 1 3.2 1 3.1 1 2.8 1 2.7 1 2.4 1 2.2 1 1.9 1 1.7 1 1.4 1 1.2 1 .9 1 .5 1 .3 1 .1 1-.3 .9-.6 1-.8 1-1.2 1-1.4 1-1.6 1-2 1-2.1 1-2.4 1-2.7 1-2.8 1-3 1-3.2 1-3.4 1-3.5 1-3.6 1-3.7 1-3.9 1-3.8 1-4 1-3.9 1-4 1-3.9 1-3.9 .9-3.9 1-3.7 1-3.7 1-3.5 1-3.5 1-3.2 1-3.1 1-2.9 1-2.7 1-2.5 1-2.3 1-2 1-1.7 1-1.5 1-1.3 1-.9 1-.7 1-.4 1-.1 1 .2 1 .5 1 .7 1 1.1 .9 1.3 1 1.6 1 1.8 1 2.2 1 2.3 1 2.6 1 2.8 1 3 1 3.1 1 3.4 1 3.5 1 3.6 1 3.8 1 3.8 1 3.9 1 4 1 4 1 4 1 4 1 4 1 3.9 1 3.8 1 3.7 .9 3.7 1 3.5 1 3.3 1 3.2 1 2.9 1 2.8 1 2.5 1 2.3 1 2.1 1 1.8 1 1.5 1 1.3 1 .9 1 .7 1 .4 1 .1 1-.3 1-.5 1-.8 1-1.1 1-1.4 1-1.7 1-2 .9-2.2 1-2.5 1-2.7 1-2.9 1-3.2 1-3.3 1-3.5 1-3.6 1-3.8 1-3.9 1-4 1-4.1 1-4.1 1-4.1 1-4.1 1-4.1 1-4.1 1-4 1-3.9 1-3.8 1-3.6 1-3.5 1-3.4 1-3.1 .9-2.9 1-2.7 1-2.5 1-2.2 1-1.9 1-1.7 1-1.3 1-1.1 1-.7 1-.5 1-.1 1 .2 1 .5 1 .8 1 1.1 1 1.4 1 1.7 1 2 1 2.3 1 2.5 1 2.8 1 3 1 3.2 .9 3.5 1 3.6 1 3.7 1 3.9 1 4 1 4.1 1 4.2 1 4.2 1 4.2 1 4.3 1 4.2 1 4.1 1 4.1 1 4 1 3.8 1 3.8 1 3.5 1 3.4 1 3.1 1 3 1 2.7 1 2.4 1 2.2 .9 1.9 1 1.6 1 1.3 1 1 1 .6 1 .4 1 0 1-.3 1-.6 1-1 1-1.3 1-1.5 1-1.9 1-2.2 1-2.4 1-2.7 1-3 1-3.1 1-3.4 1-3.6 1-3.8 1-3.9 1-4 .9-4.2 1-4.2 1-4.3 1-4.3 1-4.4 1-4.3 1-4.2 1-4.3 1-4.1 1-4 1-3.8 1-3.7 1-3.5 1-3.3 1-3.1 1-2.9 1-2.6 1-2.3 1-2 1-1.8 1-1.4 1-1.1 1-.8 .9-.4 1-.1 1 .2 1 .5 1 .9 1 1.2 1 1.5 1 1.8 1 2.1 1 2.5 1 2.6 1 3 1 3.2 1 3.4 1 3.6 1 3.7 1 4 1 4.1 1 4.2 1 4.2 1 4.4 1 4.4 1 4.4 .9 4.3 1 4.4 1 4.2 1 4.2 1 4.1 1 3.9 1 3.8 1 3.6 1 3.3 1 3.2 1 2.9 1 2.6 1 2.4 1 2 1 1.8 1 1.4 1 1.1 1 .8 1 .4 1 .1 1-.3 1-.6 1-.9 .9-1.3 1-1.6 1-1.9 1-2.3 1-2.5 1-2.8 1-3.1 1-3.3 1-3.5 1-3.8 1-3.9 1-4.1 1-4.2 1-4.3 1-4.4 1-4.5 1-4.5 1-4.5 1-4.5 1-4.4 1-4.3 1-4.3 1-4.1 .9-3.9 1-3.8 1-3.5 1-3.3 1-3.1 1-2.8 1-2.6 1-2.2 1-1.9 1-1.6 1-1.2 1-.9 1-.6 1-.2 1 .2 1 .5 1 .8 1 1.2 1 1.6 1 1.8 1 2.2 1 2.5 1 2.8 .9 3 1 3.4 1 3.5 1 3.8 1 3.9 1 4.1 1 4.3 1 4.4 1 4.4 1 4.6 1 4.5 1 4.6 1 4.5 1 4.5 1 4.4 1 4.4 1 4.1 1 4 1 3.9 1 3.6 1 3.4 1 3.1 1 2.9 .9 2.6 1 2.2 1 2 1 1.6 1 1.2 1 .9 1 .6 1 .1 1-.2 1-.5 1-1 1-1.3 1-1.6 1-2 1-2.3 1-2.6 1-3 1-3.2 1-3.5 1-3.7 1-4 1-4.1 1-4.3 1-4.4 .9-4.6 1-4.6 1-4.7 1-4.7 1-4.7 1-4.6 1-4.6 1-4.5 1-4.4 1-4.2 1-4 1-3.8 1-3.5 1-3.4 1-3 1-2.7 1-2.4 1-2.1 1-1.7 1-1.4 1-1 1-.7 1-.2 .9 .1 1 .5 1 .9 1 1.2 1 1.6 1 1.9 1 2.3 1 2.6 1 3 1 3.2 1 3.4 1 3.8 1 3.9 1 4.1 1 4.3 1 4.5 1 4.6 1 4.6 1 4.7 1 4.8 1 4.7 1 4.7 1 4.6 .9 4.6 1 4.4 1 4.2 1 4.1 1 3.9 1 3.6 1 3.4 1 3.1 1 2.8 1 2.5 1 2.1 1 1.8 1 1.4 1 1 1 .7 1 .3 1-.2 1-.5 1-.9 1-1.3 1-1.7 1-2 1-2.4 .9-2.7 1-3.1 1-3.4 1-3.6 1-3.9 1-4.1 1-4.4 1-4.5 1-4.6 1-4.8 1-4.8 1-4.9 1-5 1-4.8 1-4.9 1-4.7 1-4.7 1-4.4 1-4.3 1-4.1 1-3.9 1-3.6 1-3.2 .9-3 1-2.7 1-2.3 1-1.9 1-1.6 1-1.1 1-.8 1-.4 1 0 1 .5 1 .8 1 1.2 1 1.7 1 1.9 1 2.4 1 2.7 1 3 1 3.3 1 3.7 1 3.8 1 4.1 1 4.4 1 4.5 .9 4.6 1 4.8 1 4.8 1 5 1 4.9 1 4.9 1 4.9 1 4.8 1 4.7 1 4.5 1 4.4 1 4.2 1 4 1 3.6 1 3.4 1 3.1 1 2.8 1 2.4 1 2 1 1.7 1 1.3 1 .8 1 .4 .9 0 1-.4 1-.8 1-1.3 1-1.7 1-2 1-2.5 1-2.9 1-3.1 1-3.6 1-3.8 1-4.1 1-4.4 1-4.6 1-4.8 1-4.9 1-5.1 1-5.1 1-5.2 1-5.2 1-5.1 1-5.1 1-5 .9-4.8 1-4.7 1-4.4 1-4.2 1-4 1-3.6 1-3.3 1-2.9 1-2.5 1-2.2 1-1.7 1-1.3 1-.9 1-.4 1 0 1 .5 1 .9 1 1.4 1 1.7 1 2.2 1 2.6 1 3 1 3.3 .9 3.6 1 4 1 4.2 1 4.5 1 4.6 1 4.9 1 5 1 5.1 1 5.2 1 5.3 1 5.2 1 5.2 1 5.1 1 5 1 4.8 1 4.7 1 4.4 1 4.2 1 3.9 1 3.5 1 3.3 1 2.9 1 2.5 .9 2 1 1.7 1 1.2 1 .8 1 .4 1-.1 1-.6 1-1 1-1.5 1-1.9 1-2.3 1-2.8 1-3.1 1-3.5 1-3.8 1-4.1 1-4.5 1-4.6 1-4.9 1-5.1 1-5.2 1-5.3 1-5.4 .9-5.4 1-5.4 1-5.3 1-5.2 1-5.1 1-4.9 1-4.7 1-4.5 1-4.1 1-3.9 1-3.5 1-3.1 1-2.7 1-2.3 1-1.9 1-1.4 1-.9 1-.5 1 0 1 .5 1 1 1 1.4 1 1.9 1 2.4 .9 2.8 1 3.2 1 3.5 1 4 1 4.2 1 4.6 1 4.8 1 5.1 1 5.2 1 5.4 1 5.5 1 5.5 1 5.6 1 5.5 1 5.5 1 5.3 1 5.2 1 5 1 4.8 1 4.4 1 4.2 1 3.8 1 3.5 .9 3.1 1 2.6 1 2.2 1 1.7 1 1.2 1 .7 1 .3 1-.3 1-.8 1-1.2 1-1.8 1-2.2 1-2.7 1-3.1 1-3.5 1-3.9 1-4.3 1-4.6 1-4.8 1-5.1 1-5.4 1-5.4 1-5.6 .9-5.7 1-5.7 1-5.7 1-5.6 1-5.5 1-5.4 1-5.1 1-5 1-4.6 1-4.3 1-4 1-3.6 1-3.2 1-2.7 1-2.3 1-1.8 1-1.3 1-.8 1-.2 1 .2 1 .8 1 1.3 1 1.8 .9 2.3 1 2.8 1 3.2 1 3.7 1 4 1 4.4 1 4.7 1 5.1 1 5.3 1 5.4 1 5.7 1 5.8 1 5.8 1 5.8 1 5.8 1 5.8 1 5.6 1 5.4 1 5.2 1 5 1 4.6 1 4.3 1 3.9 .9 3.5 1 3.1 1 2.6 1 2 1 1.6 1 1.1 1 .5 1-.1 1-.6 1-1.1 1-1.6 1-2.2 1-2.7 1-3.1 1-3.6 1-4.1 1-4.4 1-4.8 1-5.1 1-5.4 1-5.6 1-5.8 1-5.9 .9-6 1-6.1 1-6 1-6 1-5.8 1-5.7 1-5.5 1-5.1 1-4.9 1-4.5 1-4.1 1-3.7 1-3.2 1-2.7 1-2.2 1-1.7 1-1 1-.6 1 .1 1 .6 1 1.2 1 1.7 1 2.3 .9 2.8 1 3.2 1 3.8 1 4.1 1 4.6 1 4.9 1 5.3 1 5.5 1 5.7 1 6 1 6 1 6.2 1 6.1 1 6.1 1 6.1 1 5.9 1 5.7 1 5.5 1 5.1 1 4.9 1 4.5 1 4 1 3.6 .9 3.2 1 2.6 1 2 1 1.5 1 .9 1 .3 1-.3 1-.9 1-1.4 1-2.1 1-2.6 1-3.2 1-3.7 1-4.2 1-4.6 1-5 1-5.5 1-5.7 1-6.1 1-6.2 1-6.4 1-6.5 1-6.6 .9-6.5 1-6.4 1-6.3 1-6.1 1-5.8 1-5.4 1-5.1 1-4.6 1-4.2 1-3.6 1-3.1 1-2.4 1-1.9 1-1.2 1-.6 1 .1 1 .8 1 1.3 1 2 1 2.6 1 3.2 1 3.7 1 4.2 .9 4.7 1 5.1 1 5.5 1 5.8 1 6.1 1 6.3 1 6.5 1 6.5 1 6.6 1 6.6 1 6.4 1 6.3 1 6.2 1 5.8 1 5.5 1 5.2 1 4.7 1 4.2 1 3.8 1 3.1 1 2.6 1 2 1 1.4 1 .7 .9 0 .8-.4 .8-.9 .8-1.2 .8-1.6 .7-2 .8-2.4 .8-2.7 .8-3.1 .8-3.4 .7-3.8 .8-4 .8-4.3 .8-4.6 .8-4.7 .7-5 .8-5.1 .8-5.3 .8-5.3 .8-5.4 .7-5.5 .8-5.4 .8-5.4 .8-5.4 .7-5.2 .8-5.1 .8-4.9 .8-4.7 .8-4.5 .7-4.2 .8-3.9 .8-3.6 .8-3.2 .8-2.9 .7-2.5 .8-2 .8-1.7 .8-1.2 .8-.8 .7-.3 .8 .1 .8 .5 .8 1 .8 1.5 .7 1.8 .8 2.3 .8 2.6 .8 3.1 .7 3.4 .8 3.7 .8 4.1 .8 4.4 .8 4.6 .7 4.8 .8 5.1 .8 5.2 .8 5.4 .8 5.5 .7 5.5 .8 5.6 .8 5.6 .8 5.5 .8 5.5 .7 5.3 .8 5.2 .8 5.1 .8 4.8 .8 4.6 .7 4.3 .8 4 .8 3.7 .8 3.4 .7 2.9 .8 2.6 .8 2.1 .8 1.8 .8 1.3 .7 .8 .8 .4 .8-.1 .8-.5 .8-.9 .7-1.5 .8-1.8 .8-2.3 .8-2.7 .8-3.2 .7-3.5 .8-3.8 .8-4.2 .8-4.5 .8-4.8 .7-5 .8-5.3 .8-5.4 .8-5.6 .8-5.8 .7-5.7 .8-5.9 .8-5.8 .8-5.7 .7-5.7 .8-5.6 .8-5.4 .8-5.2 .8-5 .7-4.7 .8-4.4 .8-4.1 .8-3.6 .8-3.3 .7-2.9 .8-2.5 .8-1.9 .8-1.5 .8-1.1 .7-.5 .8 0 .8 .5 .8 1 .8 1.4 .7 2 .8 2.4 .8 2.9 .8 3.3 .7 3.7 .8 4.1 .8 4.5 .8 4.8 .8 5.1 .7 5.3 .8 5.6 .8 5.7 .8 5.9 .8 6 .7 6.1 .8 6 .8 6.1 .8 5.9 .8 5.9 .7 5.7 .8 5.5 .8 5.2 .8 5 .8 4.7 .7 4.3 .8 3.9 .8 3.5 .8 3.1 .7 2.6 .8 2.1 .8 1.7 .8 1.1 .8 .6 .7 0 .8-.4 .8-1.1 .8-1.5 .8-2 .7-2.6 .8-3.1 .8-3.5 .8-3.9 .8-4.4 .7-4.8 .8-5.1 .8-5.4 .8-5.7 .8-5.9 .7-6.1 .8-6.3 .8-6.3 .8-6.4 .8-6.4 .7-6.4 .8-6.2 .8-6.1 .8-5.9 .7-5.6 .8-5.4 .8-5 .8-4.6 .8-4.3 .7-3.8 .8-3.3 .8-2.8 .8-2.3 .8-1.8 .7-1.2 .8-.6 .8-.1 .8 .5 .8 1.1 .7 1.7 .8 2.1 .8 2.7 .8 3.3 .8 3.7 .7 4.1 .8 4.6 .8 5 .8 5.4 .7 5.7 .8 5.9 .8 6.2 .8 6.3 .8 6.5 .7 6.6 .8 6.6 .8 6.5 .8 6.6 .8 6.4 .7 6.2 .8 6 .8 5.7 .8 5.4 .8 5.1 .7 4.6 .8 4.2 .8 3.7 .8 3.2 .8 2.7 .7 2.1 .8 1.5 .8 .8 .8 .3 .7-.4 .8-1 .8-1.6 .8-2.3 .8-2.9 .7-3.5 .8-4 .8-4.6 .8-5 .8-5.6 .7-5.9 .8-6.4 .8-6.6 .8-6.9 .8-7.1 .7-7.2 .8-7.3 .8-7.3 .8-7.3 .8-7.1 .7-6.9 .8-6.7 .8-6.3 .8-5.9 .8-5.5 .7-5 .8-4.5 .8-3.8 .8-3.2 .7-2.6 .8-1.8 .8-1.2 .8-.4 .8 .3 .7 1.1 .8 1.7 .8 2.5 .8 3.2 .8 3.8 .7 4.4 .8 5 .8 5.6 .8 6 .8 6.4 .7 6.8 .8 7.2 .8 7.3 .8 7.5 .8 7.7 .7 7.6 .8 7.6 .8 7.5 .8 7.2 .7 7.1 .8 6.6 .8 6.3 .8 5.9 .8 5.3 .7 4.8 .8 4.1 .8 3.5 .8 2.8 .8 2.1 .7 1.4 .8 .6 .8-.2 .8-.9 .8-1.7 .7-2.5 .8-3.2 .8-3.8 .8-4.6 .8-5.1 .7-5.8 .8-6.3 .8-6.7 .8-7.1 .7-7.5 .8-7.8 .8-7.9 .8-8.1 .8-8 .7-8.1 .8-7.9 .8-7.7 .8-7.4 .8-7 .7-6.6 .8-6 .8-5.5 .8-4.8 .8-4.2 .7-3.4 .8-2.6 .8-1.8 .8-.9 .8-.1 .7 .8 .8 1.7 .8 2.5 .8 3.4 .8 4.2 .7 4.9 .8 5.7 .8 6.3 .8 6.9 .7 7.5 .8 7.9 .4 4 .4 4.2 .4 4.2 .4 4.3 .4 4.3 .4 4.4 .4 4.4 .3 4.3 .4 4.4 .4 4.4 .4 4.3 .4 4.3 .4 4.2 .4 4.2 .4 4.1 .4 4 .3 3.9 .4 3.7 .4 3.7 .4 3.5 .4 3.4 .4 3.2 .4 3 .4 2.9 .4 2.7 .4 2.5 .3 2.3 .4 2.1 .4 1.9 .4 1.7 .4 1.4 .4 1.3 .4 1 .4 .7 .4 .6 .4 .2 .3 .1 .4-.2 .4-.4 .4-.7 .4-.9 .4-1.1 .4-1.4 .4-1.5 .4-1.8 .3-2.1 .4-2.2 .4-2.4 .4-2.7 .4-2.8 .4-3 .4-3.2 .4-3.3 .4-3.5 .4-3.7 .3-3.8 .4-3.9 .4-4 .4-4.1 .4-4.3 .4-4.3 .4-4.4 .4-4.4 .4-4.5 .4-4.5 .3-4.5 .4-4.5 .4-4.5 .4-4.6 .4-4.4 .4-4.5 .4-4.3 .4-4.3 .4-4.3 .3-4.1 .4-4 .4-3.9 .4-3.8 .4-3.7 .4-3.5 .4-3.3 .4-3.2 .4-3 .4-2.8 .3-2.6 .4-2.5 .4-2.2 .4-2 .4-1.8 .4-1.5 .4-1.4 .4-1.1 .4-.9 .3-.6 .4-.4 .4-.1 .4 .1 .4 .3 .4 .6 .4 .8 .4 1 .4 1.3 .4 1.5 .3 1.7 .4 2 .4 2.2 .4 2.3 .4 2.6 .4 2.8 .4 3 .4 3.1 .4 3.4 0 .7" stroke="#E19C24" stroke-width="4.65"/>
<path d="M190,588.7l1 4 1 3.9 1 3.8 1 3.7 1 3.6 1 3.3 1 3.2 1 2.9 1 2.7 1 2.5 1 2.2 1 1.9 1 1.7 1 1.3 1 1.1 .9 .8 1 .4 1 .2 1-.2 1-.4 1-.7 1-1 1-1.3 1-1.5 1-1.8 1-2.1 1-2.3 1-2.5 1-2.6 1-2.9 1-3.1 1-3.2 1-3.4 1-3.4 1-3.6 1-3.7 1-3.7 1-3.8 .9-3.8 1-3.8 1-3.8 1-3.8 1-3.7 1-3.7 1-3.6 1-3.5 1-3.4 1-3.3 1-3.1 1-2.9 1-2.8 1-2.6 1-2.4 1-2.2 1-2 1-1.7 1-1.5 1-1.2 1-1 1-.7 1-.4 .9-.2 1 .1 1 .3 1 .7 1 .9 1 1.2 1 1.4 1 1.7 1 2 1 2.1 1 2.5 1 2.6 1 2.8 1 3.1 1 3.2 1 3.3 1 3.5 1 3.6 1 3.8 1 3.8 1 3.8 1 4 1 3.9 .9 3.9 1 4 1 3.9 1 3.8 1 3.7 1 3.7 1 3.5 1 3.4 1 3.2 1 3.1 1 2.8 1 2.7 1 2.4 1 2.2 1 1.9 1 1.7 1 1.4 1 1.2 1 .9 1 .5 1 .3 1 .1 1-.3 .9-.6 1-.8 1-1.2 1-1.4 1-1.6 1-2 1-2.1 1-2.4 1-2.7 1-2.8 1-3 1-3.2 1-3.4 1-3.5 1-3.6 1-3.7 1-3.9 1-3.8 1-4 1-3.9 1-4 1-3.9 1-3.9 .9-3.9 1-3.7 1-3.7 1-3.5 1-3.5 1-3.2 1-3.1 1-2.9 1-2.7 1-2.5 1-2.3 1-2 1-1.7 1-1.5 1-1.3 1-.9 1-.7 1-.4 1-.1 1 .2 1 .5 1 .7 1 1.1 .9 1.3 1 1.6 1 1.8 1 2.2 1 2.3 1 2.6 1 2.8 1 3 1 3.1 1 3.4 1 3.5 1 3.6 1 3.8 1 3.8 1 3.9 1 4 1 4 1 4 1 4 1 4 1 3.9 1 3.8 1 3.7 .9 3.7 1 3.5 1 3.3 1 3.2 1 2.9 1 2.8 1 2.5 1 2.3 1 2.1 1 1.8 1 1.5 1 1.3 1 .9 1 .7 1 .4 1 .1 1-.3 1-.5 1-.8 1-1.1 1-1.4 1-1.7 1-2 .9-2.2 1-2.5 1-2.7 1-2.9 1-3.2 1-3.3 1-3.5 1-3.6 1-3.8 1-3.9 1-4 1-4.1 1-4.1 1-4.1 1-4.1 1-4.1 1-4.1 1-4 1-3.9 1-3.8 1-3.6 1-3.5 1-3.4 1-3.1 .9-2.9 1-2.7 1-2.5 1-2.2 1-1.9 1-1.7 1-1.3 1-1.1 1-.7 1-.5 1-.1 1 .2 1 .5 1 .8 1 1.1 1 1.4 1 1.7 1 2 1 2.3 1 2.5 1 2.8 1 3 1 3.2 .9 3.5 1 3.6 1 3.7 1 3.9 1 4 1 4.1 1 4.2 1 4.2 1 4.2 1 4.3 1 4.2 1 4.1 1 4.1 1 4 1 3.8 1 3.8 1 3.5 1 3.4 1 3.1 1 3 1 2.7 1 2.4 1 2.2 .9 1.9 1 1.6 1 1.3 1 1 1 .6 1 .4 1 0 1-.3 1-.6 1-1 1-1.3 1-1.5 1-1.9 1-2.2 1-2.4 1-2.7 1-3 1-3.1 1-3.4 1-3.6 1-3.8 1-3.9 1-4 .9-4.2 1-4.2 1-4.3 1-4.3 1-4.4 1-4.3 1-4.2 1-4.3 1-4.1 1-4 1-3.8 1-3.7 1-3.5 1-3.3 1-3.1 1-2.9 1-2.6 1-2.3 1-2 1-1.8 1-1.4 1-1.1 1-.8 .9-.4 1-.1 1 .2 1 .5 1 .9 1 1.2 1 1.5 1 1.8 1 2.1 1 2.5 1 2.6 1 3 1 3.2 1 3.4 1 3.6 1 3.7 1 4 1 4.1 1 4.2 1 4.2 1 4.4 1 4.4 1 4.4 .9 4.3 1 4.4 1 4.2 1 4.2 1 4.1 1 3.9 1 3.8 1 3.6 1 3.3 1 3.2 1 2.9 1 2.6 1 2.4 1 2 1 1.8 1 1.4 1 1.1 1 .8 1 .4 1 .1 1-.3 1-.6 1-.9 .9-1.3 1-1.6 1-1.9 1-2.3 1-2.5 1-2.8 1-3.1 1-3.3 1-3.5 1-3.8 1-3.9 1-4.1 1-4.2 1-4.3 1-4.4 1-4.5 1-4.5 1-4.5 1-4.5 1-4.4 1-4.3 1-4.3 1-4.1 .9-3.9 1-3.8 1-3.5 1-3.3 1-3.1 1-2.8 1-2.6 1-2.2 1-1.9 1-1.6 1-1.2 1-.9 1-.6 1-.2 1 .2 1 .5 1 .8 1 1.2 1 1.6 1 1.8 1 2.2 1 2.5 1 2.8 .9 3 1 3.4 1 3.5 1 3.8 1 3.9 1 4.1 1 4.3 1 4.4 1 4.4 1 4.6 1 4.5 1 4.6 1 4.5 1 4.5 1 4.4 1 4.4 1 4.1 1 4 1 3.9 1 3.6 1 3.4 1 3.1 1 2.9 .9 2.6 1 2.2 1 2 1 1.6 1 1.2 1 .9 1 .6 1 .1 1-.2 1-.5 1-1 1-1.3 1-1.6 1-2 1-2.3 1-2.6 1-3 1-3.2 1-3.5 1-3.7 1-4 1-4.1 1-4.3 1-4.4 .9-4.6 1-4.6 1-4.7 1-4.7 1-4.7 1-4.6 1-4.6 1-4.5 1-4.4 1-4.2 1-4 1-3.8 1-3.5 1-3.4 1-3 1-2.7 1-2.4 1-2.1 1-1.7 1-1.4 1-1 1-.7 1-.2 .9 .1 1 .5 1 .9 1 1.2 1 1.6 1 1.9 1 2.3 1 2.6 1 3 1 3.2 1 3.4 1 3.8 1 3.9 1 4.1 1 4.3 1 4.5 1 4.6 1 4.6 1 4.7 1 4.8 1 4.7 1 4.7 1 4.6 .9 4.6 1 4.4 1 4.2 1 4.1 1 3.9 1 3.6 1 3.4 1 3.1 1 2.8 1 2.5 1 2.1 1 1.8 1 1.4 1 1 1 .7 1 .3 1-.2 1-.5 1-.9 1-1.3 1-1.7 1-2 1-2.4 .9-2.7 1-3.1 1-3.4 1-3.6 1-3.9 1-4.1 1-4.4 1-4.5 1-4.6 1-4.8 1-4.8 1-4.9 1-5 1-4.8 1-4.9 1-4.7 1-4.7 1-4.4 1-4.3 1-4.1 1-3.9 1-3.6 1-3.2 .9-3 1-2.7 1-2.3 1-1.9 1-1.6 1-1.1 1-.8 1-.4 1 0 1 .5 1 .8 1 1.2 1 1.7 1 1.9 1 2.4 1 2.7 1 3 1 3.3 1 3.7 1 3.8 1 4.1 1 4.4 1 4.5 .9 4.6 1 4.8 1 4.8 1 5 1 4.9 1 4.9 1 4.9 1 4.8 1 4.7 1 4.5 1 4.4 1 4.2 1 4 1 3.6 1 3.4 1 3.1 1 2.8 1 2.4 1 2 1 1.7 1 1.3 1 .8 1 .4 .9 0 1-.4 1-.8 1-1.3 1-1.7 1-2 1-2.5 1-2.9 1-3.1 1-3.6 1-3.8 1-4.1 1-4.4 1-4.6 1-4.8 1-4.9 1-5.1 1-5.1 1-5.2 1-5.2 1-5.1 1-5.1 1-5 .9-4.8 1-4.7 1-4.4 1-4.2 1-4 1-3.6 1-3.3 1-2.9 1-2.5 1-2.2 1-1.7 1-1.3 1-.9 1-.4 1 0 1 .5 1 .9 1 1.4 1 1.7 1 2.2 1 2.6 1 3 1 3.3 .9 3.6 1 4 1 4.2 1 4.5 1 4.6 1 4.9 1 5 1 5.1 1 5.2 1 5.3 1 5.2 1 5.2 1 5.1 1 5 1 4.8 1 4.7 1 4.4 1 4.2 1 3.9 1 3.6 1 3.2 1 2.9 1 2.5 .9 2 1 1.7 1 1.2 1 .8 1 .4 1-.1 1-.6 1-1 1-1.5 1-1.9 1-2.3 1-2.8 1-3.1 1-3.5 1-3.8 1-4.1 1-4.5 1-4.6 1-4.9 1-5.1 1-5.2 1-5.3 1-5.4 .9-5.4 1-5.4 1-5.3 1-5.2 1-5.1 1-4.9 1-4.7 1-4.5 1-4.1 1-3.9 1-3.5 1-3.1 1-2.7 1-2.3 1-1.9 1-1.4 1-.9 1-.5 1 0 1 .5 1 1 1 1.4 1 1.9 1 2.4 .9 2.8 1 3.2 1 3.5 1 4 1 4.2 1 4.6 1 4.8 1 5.1 1 5.2 1 5.4 1 5.5 1 5.5 1 5.6 1 5.5 1 5.5 1 5.3 1 5.2 1 5 1 4.8 1 4.4 1 4.2 1 3.9 1 3.4 .9 3.1 1 2.6 1 2.2 1 1.7 1 1.2 1 .7 1 .3 1-.3 1-.8 1-1.2 1-1.8 1-2.2 1-2.7 1-3.1 1-3.5 1-3.9 1-4.3 1-4.5 1-4.9 1-5.1 1-5.3 1-5.5 1-5.6 .9-5.7 1-5.7 1-5.6 1-5.7 1-5.5 1-5.3 1-5.2 1-4.9 1-4.7 1-4.3 1-4 1-3.6 1-3.2 1-2.7 1-2.3 1-1.8 1-1.3 1-.8 1-.2 1 .2 1 .8 1 1.3 1 1.8 .9 2.3 1 2.8 1 3.2 1 3.7 1 4 1 4.5 1 4.7 1 5.1 1 5.3 1 5.4 1 5.7 1 5.8 1 5.8 1 5.8 1 5.9 1 5.7 1 5.6 1 5.4 1 5.2 1 5 1 4.6 1 4.3 1 3.9 .9 3.5 1 3 1 2.6 1 2.1 1 1.5 1 1.1 1 .5 1-.1 1-.6 1-1.1 1-1.6 1-2.2 1-2.6 1-3.1 1-3.6 1-4 1-4.4 1-4.7 1-5.1 1-5.3 1-5.6 1-5.8 1-5.9 .9-6 1-6 1-6 1-6 1-5.9 1-5.6 1-5.5 1-5.2 1-4.9 1-4.6 1-4.2 1-3.7 1-3.2 1-2.8 1-2.2 1-1.7 1-1.1 1-.6 1 .1 1 .6 1 1.2 1 1.8 1 2.4 .9 2.9 1 3.4 1 3.8 1 4.4 1 4.7 1 5.1 1 5.4 1 5.8 1 5.9 1 6.1 1 6.2 1 6.3 1 6.3 1 6.2 1 6.1 1 6 1 5.7 1 5.5 1 5.1 1 4.8 1 4.3 1 3.9 1 3.4 .9 2.8 1 2.3 1 1.8 1 1.1 1 .6 1-.1 1-.6 1-1.3 1-1.8 1-2.4 1-2.9 1-3.5 1-3.9 1-4.4 1-4.8 1-5.2 1-5.6 1-5.8 1-6.1 1-6.2 1-6.4 1-6.4 1-6.5 .9-6.3 1-6.3 1-6.1 1-5.9 1-5.6 1-5.3 1-4.9 1-4.4 1-3.9 1-3.4 1-2.9 1-2.3 1-1.6 1-1 1-.4 1 .3 1 .9 1 1.6 1 2.2 1 2.8 1 3.3 1 3.9 1 4.5 .9 4.9 1 5.3 1 5.7 1 6 1 6.3 1 6.4 1 6.6 1 6.7 1 6.7 1 6.6 1 6.6 1 6.3 1 6.1 1 5.7 1 5.4 1 5 1 4.5 1 4 1 3.5 1 2.8 1 2.2 1 1.6 1 .9 1 .3 .9-.5 .8-.8 .8-1.2 .8-1.6 .8-2 .7-2.4 .8-2.7 .8-3.1 .8-3.4 .8-3.8 .7-4 .8-4.3 .8-4.5 .8-4.8 .8-5 .7-5.1 .8-5.2 .8-5.3 .8-5.4 .8-5.5 .7-5.4 .8-5.4 .8-5.3 .8-5.2 .7-5.1 .8-4.9 .8-4.7 .8-4.5 .8-4.2 .7-3.9 .8-3.6 .8-3.2 .8-2.9 .8-2.5 .7-2.1 .8-1.7 .8-1.3 .8-.8 .8-.4 .7 .1 .8 .5 .8 .9 .8 1.4 .8 1.8 .7 2.2 .8 2.6 .8 3 .8 3.3 .7 3.7 .8 4 .8 4.3 .8 4.6 .8 4.8 .7 5 .8 5.2 .8 5.4 .8 5.4 .8 5.6 .7 5.6 .8 5.5 .8 5.6 .8 5.5 .8 5.4 .7 5.3 .8 5 .8 4.9 .8 4.7 .8 4.4 .7 4 .8 3.8 .8 3.4 .8 3 .7 2.7 .8 2.2 .8 1.7 .8 1.4 .8 .8 .7 .4 .8-.1 .8-.5 .8-1 .8-1.5 .7-2 .8-2.4 .8-2.8 .8-3.3 .8-3.6 .7-4.1 .8-4.3 .8-4.7 .8-5 .8-5.2 .7-5.5 .8-5.6 .8-5.7 .8-5.9 .8-5.9 .7-5.9 .8-5.9 .8-5.9 .8-5.7 .7-5.5 .8-5.4 .8-5.2 .8-4.8 .8-4.6 .7-4.2 .8-3.9 .8-3.5 .8-3 .8-2.6 .7-2.2 .8-1.6 .8-1.2 .8-.7 .8-.2 .7 .3 .8 .8 .8 1.2 .8 1.8 .8 2.2 .7 2.6 .8 3.1 .8 3.5 .8 3.8 .7 4.2 .8 4.6 .8 4.8 .8 5.1 .8 5.4 .7 5.5 .8 5.7 .8 5.9 .8 5.9 .8 5.9 .7 6 .8 5.9 .8 5.8 .8 5.8 .8 5.5 .7 5.4 .8 5.1 .8 4.9 .8 4.5 .8 4.2 .7 3.9 .8 3.4 .8 3 .8 2.6 .7 2 .8 1.6 .8 1.1 .8 .5 .8 0 .7-.6 .8-1.1 .8-1.6 .8-2.2 .8-2.7 .7-3.2 .8-3.7 .8-4.1 .8-4.6 .8-4.9 .7-5.3 .8-5.7 .8-5.9 .8-6.1 .8-6.4 .7-6.4 .8-6.6 .8-6.5 .8-6.6 .8-6.4 .7-6.4 .8-6.1 .8-5.9 .8-5.6 .7-5.3 .8-4.9 .8-4.5 .8-4.1 .8-3.5 .7-3 .8-2.5 .8-2 .8-1.3 .8-.8 .7-.2 .8 .4 .8 1 .8 1.6 .8 2.2 .7 2.7 .8 3.2 .8 3.7 .8 4.2 .8 4.7 .7 5 .8 5.4 .8 5.7 .8 6 .7 6.2 .8 6.4 .8 6.5 .8 6.6 .8 6.7 .7 6.6 .8 6.5 .8 6.3 .8 6.2 .8 6 .7 5.7 .8 5.3 .8 5 .8 4.6 .8 4.1 .7 3.6 .8 3.2 .8 2.5 .8 2.1 .8 1.4 .7 .8 .8 .2 .8-.4 .8-1 .7-1.7 .8-2.2 .8-2.8 .8-3.4 .8-3.9 .7-4.5 .8-4.9 .8-5.3 .8-5.8 .8-6.1 .7-6.5 .8-6.6 .8-6.9 .8-7 .8-7.1 .7-7.1 .8-7 .8-7 .8-6.8 .8-6.5 .7-6.3 .8-5.9 .8-5.5 .8-5.1 .8-4.5 .7-4 .8-3.4 .8-2.8 .8-2.1 .7-1.5 .8-.8 .8 0 .8 .6 .8 1.4 .7 2.1 .8 2.7 .8 3.4 .8 4.1 .8 4.7 .7 5.2 .8 5.7 .8 6.2 .8 6.7 .8 6.9 .7 7.3 .8 7.5 .8 7.6 .8 7.7 .8 7.7 .7 7.6 .8 7.5 .8 7.2 .8 7 .7 6.6 .8 6.1 .8 5.7 .8 5.1 .8 4.5 .7 3.8 .8 3.1 .8 2.4 .8 1.6 .8 .9 .7 0 .8-.8 .8-1.6 .8-2.4 .8-3.1 .7-3.9 .8-4.7 .8-5.2 .8-6 .8-6.4 .7-7 .8-7.4 .8-7.8 .8-8 .7-8.2 .8-8.3 .8-8.4 .8-8.3 .8-8.1 .7-7.9 .8-7.5 .8-7.1 .8-6.7 .8-6 .7-5.5 .8-4.7 .8-4 .8-3.2 .8-2.4 .7-1.4 .8-.6 .8 .3 .8 1.2 .8 2.1 .7 3 .8 3.8 .8 4.7 .8 5.4 .8 6.1 .7 6.8 .8 7.4 .8 7.8 .8 8.3 .7 8.6 .8 8.8 .4 4.4 .4 4.5 .4 4.5 .4 4.5 .4 4.4 .4 4.5 .4 4.3 .3 4.4 .4 4.2 .4 4.2 .4 4.1 .4 3.9 .4 3.9 .4 3.7 .4 3.5 .4 3.5 .3 3.2 .4 3.1 .4 2.9 .4 2.7 .4 2.5 .4 2.3 .4 2 .4 1.9 .4 1.6 .4 1.3 .3 1.2 .4 .9 .4 .6 .4 .3 .4 .2 .4-.2 .4-.4 .4-.7 .4-.9 .4-1.2 .3-1.4 .4-1.7 .4-1.9 .4-2.2 .4-2.4 .4-2.7 .4-2.8 .4-3.1 .4-3.3 .3-3.5 .4-3.7 .4-3.9 .4-4 .4-4.2 .4-4.4 .4-4.4 .4-4.6 .4-4.7 .4-4.8 .3-4.9 .4-4.9 .4-5 .4-5 .4-5 .4-5 .4-5 .4-5 .4-4.9 .4-4.8 .3-4.7 .4-4.7 .4-4.5 .4-4.4 .4-4.3 .4-4.1 .4-3.9 .4-3.7 .4-3.5 .3-3.3 .4-3 .4-2.8 .4-2.6 .4-2.3 .4-2 .4-1.7 .4-1.4 .4-1.2 .4-.8 .3-.5 .4-.2 .4 .1 .4 .5 .4 .7 .4 1.1 .4 1.4 .4 1.7 .4 2 .3 2.4 .4 2.6 .4 2.9 .4 3.2 .4 3.5 .4 3.7 .4 4 .4 4.2 .4 4.5 .4 4.6 .3 4.9 .4 5 .4 5.2 .4 5.3 .4 5.4 .4 5.5 .4 5.7 .4 5.6 .4 5.7 0 1.3" stroke="#000" stroke-width="4.65" stroke-dasharray="2.2 8.47"/>
</g>
<g stroke="#222" stroke-width="1.45" fill="none">
<rect x="190.40" y="424.00" width="1454.70" height="290.70"/>
<path d="M259.28,714.70v-5.60M259.28,424.00v5.60M345.86,714.70v-5.60M345.86,424.00v5.60M432.44,714.70v-5.60M432.44,424.00v5.60M519.02,714.70v-5.60M519.02,424.00v5.60M605.60,714.70v-9.70M605.60,424.00v9.70M692.18,714.70v-5.60M692.18,424.00v5.60M778.76,714.70v-5.60M778.76,424.00v5.60M865.34,714.70v-5.60M865.34,424.00v5.60M951.92,714.70v-5.60M951.92,424.00v5.60M1038.50,714.70v-9.70M1038.50,424.00v9.70M1125.08,714.70v-5.60M1125.08,424.00v5.60M1211.66,714.70v-5.60M1211.66,424.00v5.60M1298.24,714.70v-5.60M1298.24,424.00v5.60M1384.82,714.70v-5.60M1384.82,424.00v5.60M1471.40,714.70v-9.70M1471.40,424.00v9.70M1557.98,714.70v-5.60M1557.98,424.00v5.60M1644.56,714.70v-5.60M1644.56,424.00v5.60"/>
<path d="M190.40,711.99h5.60M1645.10,711.99h-5.60M190.40,697.58h5.60M1645.10,697.58h-5.60M190.40,683.17h5.60M1645.10,683.17h-5.60M190.40,668.76h5.60M1645.10,668.76h-5.60M190.40,654.35h9.70M1645.10,654.35h-9.70M190.40,639.94h5.60M1645.10,639.94h-5.60M190.40,625.53h5.60M1645.10,625.53h-5.60M190.40,611.12h5.60M1645.10,611.12h-5.60M190.40,596.71h5.60M1645.10,596.71h-5.60M190.40,582.30h9.70M1645.10,582.30h-9.70M190.40,567.89h5.60M1645.10,567.89h-5.60M190.40,553.48h5.60M1645.10,553.48h-5.60M190.40,539.07h5.60M1645.10,539.07h-5.60M190.40,524.66h5.60M1645.10,524.66h-5.60M190.40,510.25h9.70M1645.10,510.25h-9.70M190.40,495.84h5.60M1645.10,495.84h-5.60M190.40,481.43h5.60M1645.10,481.43h-5.60M190.40,467.02h5.60M1645.10,467.02h-5.60M190.40,452.61h5.60M1645.10,452.61h-5.60M190.40,438.20h9.70M1645.10,438.20h-9.70"/>
</g>
<g font-size="25.60" text-anchor="middle">
<text x="605.60" y="744.50">6000</text>
<text x="1038.50" y="744.50">6500</text>
<text x="1471.40" y="744.50">7000</text>
</g>
<g font-size="25.60" text-anchor="end">
<text x="183.60" y="447.40">0.02</text>
<text x="183.60" y="519.45">0.01</text>
<text x="183.60" y="591.50">0.00</text>
<text x="183.60" y="663.55">−0.01</text>
</g>
<g clip-path="url(#c3)" fill="none" stroke-linejoin="round">
<path d="M208.90,1095.40H1647.00" stroke="#ABABAB" stroke-width="4.8" stroke-dasharray="1.9 4.51" fill="none"/>
<path d="M202.2,1046.6l10.4-.3 10.3-.2 10.3-.3 10.3-.2 10.3-.3 10.3-.2 10.3-.3 10.4-.3 10.3-.2 10.3-.3 10.3-.3 10.3-.3 10.3-.3 10.3-.2 10.3-.3 10.4-.3 10.3-.3 10.3-.3 10.3-.3 10.3-.3 10.3-.3 10.3-.4 10.4-.3 10.3-.3 10.3-.3 10.3-.3 10.3-.4 10.3-.3 10.3-.3 10.4-.4 10.3-.3 10.3-.4 10.3-.3 10.3-.4 10.3-.3 10.3-.4 10.4-.3 10.3-.4 10.3-.3 10.3-.4 10.3-.4 10.3-.4 10.3-.3 10.4-.4 10.3-.4 10.3-.4 10.3-.4 10.3-.4 10.3-.4 10.3-.4 10.4-.4 10.3-.4 10.3-.4 10.3-.4 10.3-.5 10.3-.4 10.3-.5 10.4-.4 10.3-.5 10.3-.4 10.3-.5 10.3-.5 10.3-.4 10.3-.5 10.3-.5 10.4-.5 10.3-.5 10.3-.5 10.3-.5 10.3-.6 10.3-.5 10.3-.6 10.4-.5 10.3-.6 10.3-.6 10.3-.6 10.3-.6 10.3-.6 10.3-.7 10.4-.6 10.3-.7 10.3-.7 10.3-.7 10.3-.7 10.3-.8 10.3-.7 10.4-.8 10.3-.8 10.3-.8 10.3-.8 10.3-.9 10.3-.8 10.3-.9 10.4-.9 10.3-.9 10.3-.9 10.3-.9 10.3-1 10.3-1 10.3-.9 10.4-1.1 10.3-1 10.3-1.2 10.3-1.2 10.3-1.2 10.3-1.4 10.3-1.5 10.4-1.7 10.3-2 10.3-2 10.3-1.9 10.3-1.8 10.3-1.9 10.3-2 10.4-2.1 1.2-.3 1.3-.3 1.3-.3 1.3-.3 1.3-.3 1.3-.2 1.3-.3 1.3-.3 1.3-.3 1.2-.3 1.3-.4 1.3-.3 1.3-.3 1.3-.3 1.3-.3 1.3-.4 1.3-.3 1.3-.3 1.2-.4 1.3-.3 1.3-.4 1.3-.3 1.3-.4 1.3-.3 1.3-.4 1.3-.4 1.3-.4 1.2-.4 1.3-.4 1.3-.4 1.3-.4 1.3-.5 1.3-.4 1.3-.5 1.3-.4 1.3-.5 1.3-.5 1.2-.5 1.3-.5 1.3-.5 1.3-.5 1.3-.6 1.3-.5 1.3-.6 1.3-.6 1.3-.6 1.2-.6 1.3-.7 1.3-.6 1.3-.7 1.3-.7 1.3-.7 1.3-.8 1.3-.8 1.3-.8 1.2-.8 1.3-.9 1.3-.8 1.3-1 1.3-.9 1.3-1 1.3-1 1.3-1.1 1.3-1.1 1.3-1.1 1.2-1.2 1.3-1.2 1.3-1.3 1.3-1.4 1.3-1.4 1.3-1.6 1.3-1.6 1.3-1.7 1.3-1.8 1.2-1.9 1.3-1.9 1.3-2.2 1.3-2.3 1.3-2.5 1.3-2.8 1.3-3.3 1.3-3.7 1.3-4.2 1.2-4.7 1.3-5.4 1.3-5.7 1.3-5.9 1.3-6.3 1.3-7.2 1.3-7.1 1.3-5.7 1.3-4.6 1.3-3.1 1.2-2.2 1.3-1.7 1.3-1 1.3-.8 1.3-.5 1.3-.5 1.3-.6 1.3-.7 1.3-.6 1.2-.6 1.3-.5 1.3-.3 1.3-.3 1.3-.2 1.3-.2 1.3-.1 1.3-.1 1.3-.2 1.2-.1 1.3-.1 1.3-.1 1.3 0 1.3 0 1.3 0 1.3 0 1.3 0 1.3 0 1.2 0 1.3 0 1.3 0 1.3 0 1.3 0 1.3 0 1.3 0 1.3 0 1.3 0 1.3 0 1.2 0 1.3 0 1.3 0 .4 0 17.2 0 17.2 0 17.2 0 17.2 0 17.2 0" stroke="#000" stroke-width="4.65"/>
<path d="M202.2,1047.3l10.4-.2 10.3-.3 10.3-.2 10.3-.3 10.3-.2 10.3-.3 10.3-.3 10.4-.2 10.3-.3 10.3-.3 10.3-.2 10.3-.3 10.3-.3 10.3-.3 10.3-.3 10.4-.3 10.3-.2 10.3-.3 10.3-.3 10.3-.3 10.3-.3 10.3-.4 10.4-.3 10.3-.3 10.3-.3 10.3-.3 10.3-.3 10.3-.4 10.3-.3 10.4-.3 10.3-.4 10.3-.3 10.3-.3 10.3-.4 10.3-.3 10.3-.4 10.4-.3 10.3-.4 10.3-.4 10.3-.3 10.3-.4 10.3-.3 10.3-.4 10.4-.4 10.3-.3 10.3-.4 10.3-.4 10.3-.4 10.3-.4 10.3-.4 10.4-.4 10.3-.4 10.3-.4 10.3-.4 10.3-.4 10.3-.5 10.3-.4 10.4-.5 10.3-.4 10.3-.5 10.3-.4 10.3-.5 10.3-.4 10.3-.5 10.3-.5 10.4-.5 10.3-.5 10.3-.5 10.3-.5 10.3-.5 10.3-.5 10.3-.6 10.4-.5 10.3-.6 10.3-.5 10.3-.6 10.3-.6 10.3-.6 10.3-.6 10.4-.7 10.3-.6 10.3-.7 10.3-.7 10.3-.7 10.3-.7 10.3-.8 10.4-.7 10.3-.8 10.3-.8 10.3-.8 10.3-.8 10.3-.9 10.3-.8 10.4-.9 10.3-.9 10.3-.9 10.3-.9 10.3-.9 10.3-.9 10.3-1 10.4-.9 10.3-1.1 10.3-1 10.3-1.2 10.3-1.2 10.3-1.3 10.3-1.4 10.4-1.7 10.3-1.9 10.3-2 10.3-1.8 10.3-1.7 10.3-1.8 10.3-1.9 10.4-2 1.2-.3 1.3-.2 1.3-.3 1.3-.3 1.3-.3 1.3-.2 1.3-.3 1.3-.3 1.3-.3 1.2-.3 1.3-.3 1.3-.3 1.3-.3 1.3-.3 1.3-.3 1.3-.3 1.3-.3 1.3-.3 1.2-.4 1.3-.3 1.3-.3 1.3-.4 1.3-.3 1.3-.4 1.3-.3 1.3-.4 1.3-.4 1.2-.4 1.3-.4 1.3-.4 1.3-.4 1.3-.4 1.3-.4 1.3-.5 .2 0" stroke="#E19C24" stroke-width="4.65"/>
<path d="M202.2,1095.4l10.4 0 10.3 0 10.3 0 10.3 0 10.3 0 10.3 0 10.3 0 10.4 0 10.3 0 10.3 0 10.3 0 10.3 0 10.3 0 10.3 0 10.3 0 10.4 0 10.3 0 10.3 0 10.3 0 10.3 0 10.3 0 10.3 0 10.4 0 10.3 0 10.3 0 10.3 0 10.3 0 10.3 0 10.3 0 10.4 0 10.3 0 10.3 0 10.3 0 10.3 0 10.3 0 10.3 0 10.4 0 10.3 0 10.3 0 10.3 0 10.3 0 10.3 0 10.3 0 10.4 0 10.3 0 10.3 0 10.3 0 10.3 0 10.3 0 10.3 0 10.4 0 10.3 0 10.3 0 10.3 0 10.3 0 10.3 0 10.3 0 10.4 0 10.3 0 10.3 0 10.3 0 10.3 0 10.3 0 10.3 0 10.3 0 10.4 0 10.3 0 10.3 0 10.3 0 10.3 0 10.3 0 10.3 0 10.4 0 10.3 0 10.3 0 10.3 0 10.3 0 10.3 0 10.3 0 10.4 0 10.3 0 10.3 0 10.3 0 10.3 0 10.3 0 10.3 0 10.4 0 10.3 0 10.3 0 10.3 0 10.3 0 10.3 0 10.3 0 10.4 0 10.3 0 10.3 0 10.3 0 10.3 0 10.3 0 10.3 0 10.4 0 10.3 0 10.3 0 10.3 0 10.3 .1 10.3 0 10.3 .1 10.4 .1 10.3 .1 10.3 .1 10.3 .1 10.3 .2 10.3 .2 10.3 .2 10.4 .2 1.2 0 1.3 0 1.3 0 1.3 .1 1.3 0 1.3 0 1.3 .1 1.3 0 1.3 0 1.2 0 1.3 .1 1.3 0 1.3 0 1.3 .1 1.3 0 1.3 0 1.3 .1 1.3 0 1.2 0 1.3 .1 1.3 0 1.3 0 1.3 .1 1.3 0 1.3 0 1.3 .1 1.3 0 1.2 0 1.3 .1 1.3 0 1.3 0 1.3 .1 1.3 0 1.3 0 .2 0" stroke="#5E81B5" stroke-width="4.65" stroke-dasharray="8.6 8.5" stroke-dashoffset="2.5"/>
<path d="M202.2,1046.6l10.4-.3 10.3-.2 10.3-.3 10.3-.2 10.3-.3 10.3-.2 10.3-.3 10.4-.3 10.3-.2 10.3-.3 10.3-.3 10.3-.3 10.3-.3 10.3-.2 10.3-.3 10.4-.3 10.3-.3 10.3-.3 10.3-.3 10.3-.3 10.3-.3 10.3-.4 10.4-.3 10.3-.3 10.3-.3 10.3-.3 10.3-.4 10.3-.3 10.3-.3 10.4-.4 10.3-.3 10.3-.4 10.3-.3 10.3-.4 10.3-.3 10.3-.4 10.4-.3 10.3-.4 10.3-.3 10.3-.4 10.3-.4 10.3-.4 10.3-.3 10.4-.4 10.3-.4 10.3-.4 10.3-.4 10.3-.4 10.3-.4 10.3-.4 10.4-.4 10.3-.4 10.3-.4 10.3-.4 10.3-.5 10.3-.4 10.3-.5 10.4-.4 10.3-.5 10.3-.4 10.3-.5 10.3-.5 10.3-.4 10.3-.5 10.3-.5 10.4-.5 10.3-.5 10.3-.5 10.3-.5 10.3-.6 10.3-.5 10.3-.6 10.4-.5 10.3-.6 10.3-.6 10.3-.6 10.3-.6 10.3-.6 10.3-.7 10.4-.6 10.3-.7 10.3-.7 10.3-.7 10.3-.7 10.3-.8 10.3-.7 10.4-.8 10.3-.8 10.3-.8 10.3-.8 10.3-.9 10.3-.8 10.3-.9 10.4-.9 10.3-.9 10.3-.9 10.3-.9 10.3-1 10.3-.9 10.3-1 10.4-1 10.3-1.1 10.3-1.1 10.3-1.2 10.3-1.2 10.3-1.4 10.3-1.4 10.4-1.8 10.3-1.9 10.3-2 10.3-1.8 10.3-1.7 10.3-1.7 10.3-1.8 10.4-1.9 1.2-.2 1.3-.2 1.3-.2 1.3-.2 1.3-.2 1.3-.2 1.3-.2 1.3-.2 1.3-.3 1.2-.2 1.3-.2 1.3-.2 1.3-.2 1.3-.3 1.3-.2 1.3-.2 1.3-.3 1.3-.2 1.2-.3 1.3-.2 1.3-.3 1.3-.3 1.3-.3 1.3-.2 1.3-.3 1.3-.3 1.3-.3 1.2-.3 1.3-.3 1.3-.4 1.3-.3 1.3-.4 1.3-.3 1.3-.4 .2 0" stroke="#FF0000" stroke-width="4.65" stroke-dasharray="1.7 8.6 9.4 8.3"/>
<path d="M202.2,1046.6l10.4-.3 10.3-.2 10.3-.3 10.3-.2 10.3-.3 10.3-.2 10.3-.3 10.4-.3 10.3-.2 10.3-.3 10.3-.3 10.3-.3 10.3-.3 10.3-.2 10.3-.3 10.4-.3 10.3-.3 10.3-.3 10.3-.3 10.3-.3 10.3-.3 10.3-.4 10.4-.3 10.3-.3 10.3-.3 10.3-.3 10.3-.4 10.3-.3 10.3-.3 10.4-.4 10.3-.3 10.3-.4 10.3-.3 10.3-.4 10.3-.3 10.3-.4 10.4-.3 10.3-.4 10.3-.3 10.3-.4 10.3-.4 10.3-.4 10.3-.3 10.4-.4 10.3-.4 10.3-.4 10.3-.4 10.3-.4 10.3-.4 10.3-.4 10.4-.4 10.3-.4 10.3-.4 10.3-.4 10.3-.5 10.3-.4 10.3-.5 10.4-.4 10.3-.5 10.3-.4 10.3-.5 10.3-.5 10.3-.4 10.3-.5 10.3-.5 10.4-.5 10.3-.5 10.3-.5 10.3-.5 10.3-.6 10.3-.5 10.3-.6 10.4-.5 10.3-.6 10.3-.6 10.3-.6 10.3-.6 10.3-.6 10.3-.7 10.4-.6 10.3-.7 10.3-.7 10.3-.7 10.3-.7 10.3-.8 10.3-.7 10.4-.8 10.3-.8 10.3-.8 10.3-.8 10.3-.9 10.3-.8 10.3-.9 10.4-.9 10.3-.9 10.3-.9 10.3-.9 10.3-1 10.3-1 10.3-.9 10.4-1.1 10.3-1 10.3-1.2 10.3-1.2 10.3-1.2 10.3-1.4 10.3-1.5 10.4-1.7 10.3-2 10.3-2 10.3-1.9 10.3-1.8 10.3-1.9 10.3-2 10.4-2.1 1.2-.3 1.3-.3 1.3-.3 1.3-.3 1.3-.3 1.3-.2 1.3-.3 1.3-.3 1.3-.3 1.2-.3 1.3-.4 1.3-.3 1.3-.3 1.3-.3 1.3-.3 1.3-.4 1.3-.3 1.3-.3 1.2-.4 1.3-.3 1.3-.4 1.3-.3 1.3-.4 1.3-.3 1.3-.4 1.3-.4 1.3-.4 1.2-.4 1.3-.4 1.3-.4 1.3-.4 1.3-.5 1.3-.4 1.3-.5 .2 0" stroke="#000" stroke-width="4.65" stroke-dasharray="2.2 8.47" stroke-dashoffset="-4"/>
</g>
<g stroke="#222" stroke-width="1.45" fill="none">
<rect x="202.00" y="820.50" width="1445.00" height="289.00"/>
<path d="M271.00,1109.50v-5.60M271.00,820.50v5.60M356.95,1109.50v-5.60M356.95,820.50v5.60M442.90,1109.50v-5.60M442.90,820.50v5.60M528.85,1109.50v-5.60M528.85,820.50v5.60M614.80,1109.50v-9.70M614.80,820.50v9.70M700.75,1109.50v-5.60M700.75,820.50v5.60M786.70,1109.50v-5.60M786.70,820.50v5.60M872.65,1109.50v-5.60M872.65,820.50v5.60M958.60,1109.50v-5.60M958.60,820.50v5.60M1044.55,1109.50v-9.70M1044.55,820.50v9.70M1130.50,1109.50v-5.60M1130.50,820.50v5.60M1216.45,1109.50v-5.60M1216.45,820.50v5.60M1302.40,1109.50v-5.60M1302.40,820.50v5.60M1388.35,1109.50v-5.60M1388.35,820.50v5.60M1474.30,1109.50v-9.70M1474.30,820.50v9.70M1560.25,1109.50v-5.60M1560.25,820.50v5.60M1646.20,1109.50v-5.60M1646.20,820.50v5.60"/>
<path d="M202.00,1103.47h5.60M1647.00,1103.47h-5.60M202.00,1095.40h9.70M1647.00,1095.40h-9.70M202.00,1087.33h5.60M1647.00,1087.33h-5.60M202.00,1079.26h5.60M1647.00,1079.26h-5.60M202.00,1071.19h5.60M1647.00,1071.19h-5.60M202.00,1063.12h5.60M1647.00,1063.12h-5.60M202.00,1055.05h9.70M1647.00,1055.05h-9.70M202.00,1046.98h5.60M1647.00,1046.98h-5.60M202.00,1038.91h5.60M1647.00,1038.91h-5.60M202.00,1030.84h5.60M1647.00,1030.84h-5.60M202.00,1022.77h5.60M1647.00,1022.77h-5.60M202.00,1014.70h9.70M1647.00,1014.70h-9.70M202.00,1006.63h5.60M1647.00,1006.63h-5.60M202.00,998.56h5.60M1647.00,998.56h-5.60M202.00,990.49h5.60M1647.00,990.49h-5.60M202.00,982.42h5.60M1647.00,982.42h-5.60M202.00,974.35h9.70M1647.00,974.35h-9.70M202.00,966.28h5.60M1647.00,966.28h-5.60M202.00,958.21h5.60M1647.00,958.21h-5.60M202.00,950.14h5.60M1647.00,950.14h-5.60M202.00,942.07h5.60M1647.00,942.07h-5.60M202.00,934.00h9.70M1647.00,934.00h-9.70M202.00,925.93h5.60M1647.00,925.93h-5.60M202.00,917.86h5.60M1647.00,917.86h-5.60M202.00,909.79h5.60M1647.00,909.79h-5.60M202.00,901.72h5.60M1647.00,901.72h-5.60M202.00,893.65h9.70M1647.00,893.65h-9.70M202.00,885.58h5.60M1647.00,885.58h-5.60M202.00,877.51h5.60M1647.00,877.51h-5.60M202.00,869.44h5.60M1647.00,869.44h-5.60M202.00,861.37h5.60M1647.00,861.37h-5.60M202.00,853.30h9.70M1647.00,853.30h-9.70M202.00,845.23h5.60M1647.00,845.23h-5.60M202.00,837.16h5.60M1647.00,837.16h-5.60M202.00,829.09h5.60M1647.00,829.09h-5.60M202.00,821.02h5.60M1647.00,821.02h-5.60"/>
</g>
<g font-size="25.60" text-anchor="middle">
<text x="614.80" y="1139.50">6000</text>
<text x="1044.55" y="1139.50">6500</text>
<text x="1474.30" y="1139.50">7000</text>
</g>
<g font-size="25.60" text-anchor="end">
<text x="194.80" y="862.50">0.0030</text>
<text x="194.80" y="902.85">0.0025</text>
<text x="194.80" y="943.20">0.0020</text>
<text x="194.80" y="983.55">0.0015</text>
<text x="194.80" y="1023.90">0.0010</text>
<text x="194.80" y="1064.25">0.0005</text>
<text x="194.80" y="1104.60">0.0000</text>
</g>
<rect x="204.62" y="46.53" width="79.15" height="50.75" rx="3.6" ry="3.6" fill="#fff" stroke="#000" stroke-width="2.65"/>
<text x="214.4" y="80.4">q=10</text>
<rect x="300.32" y="35.03" width="612.55" height="73.75" rx="8.0" ry="8.0" fill="#fff" stroke="#000" stroke-width="2.65"/>
<path d="M320.4,73.0H363.3" stroke="#000" stroke-width="3.60"/>
<text x="376.3" y="78.6">SXS:BBH:1107; (2,2) + (2,0)</text>
<path d="M721.1,73.0H763.8" stroke="#E19C24" stroke-width="3.60"/>
<text x="776.8" y="78.6">1PA; (2,2)</text>
<rect x="216.72" y="445.32" width="78.35" height="50.15" rx="3.6" ry="3.6" fill="#fff" stroke="#000" stroke-width="2.65"/>
<text x="226.4" y="478.6">q=10</text>
<rect x="307.72" y="433.52" width="696.55" height="73.55" rx="8.0" ry="8.0" fill="#fff" stroke="#000" stroke-width="2.65"/>
<path d="M327.9,471.1H371.0" stroke="#000" stroke-width="3.60"/>
<text x="384.0" y="477.9">SXS:BBH:1107; (2,2) + (2,0)</text>
<path d="M728.1,471.1H771.2" stroke="#E19C24" stroke-width="3.60"/>
<text x="784.5" y="477.9">1PA; (2,2) + (2,0)</text>
<rect x="227.82" y="842.12" width="78.65" height="49.85" rx="3.6" ry="3.6" fill="#fff" stroke="#000" stroke-width="2.65"/>
<text x="237.6" y="875.3">q=10</text>
<rect x="318.43" y="830.93" width="1140.15" height="82.15" rx="8.0" ry="8.0" fill="#fff" stroke="#000" stroke-width="2.65"/>
<path d="M338.3,871.4H377.2" stroke="#000" stroke-width="3.60"/>
<text x="389.7" y="878.7">SXS:BBH:1107; (2,0)</text>
<path d="M652.6,871.4H691.3" stroke="#E19C24" stroke-width="3.60"/>
<text x="704.1" y="878.7">1PA; SF (2,0)</text>
<path d="M881.6,871.4H917.2" stroke="#5E81B5" stroke-width="3.60" stroke-dasharray="8.6 8.8"/>
<text x="931.4" y="878.7">1PA (2SF only); (2,0)</text>
<path d="M1194.0,871.4H1224.5" stroke="#FF0000" stroke-width="3.60" stroke-dasharray="1.5 9.2 9.9 8.1"/>
<text x="1244.2" y="878.7">1PA; 3.5PN (2,0)</text>
<text x="911.0" y="389.5" text-anchor="middle"><tspan font-style="italic">t</tspan><tspan dx="0.6">/</tspan><tspan font-style="italic" dx="1.2">M</tspan></text>
<text x="918.0" y="786.0" text-anchor="middle"><tspan font-style="italic">t</tspan><tspan dx="0.6">/</tspan><tspan font-style="italic" dx="1.2">M</tspan></text>
<text x="925.0" y="1180.5" text-anchor="middle"><tspan font-style="italic">t</tspan><tspan dx="0.6">/</tspan><tspan font-style="italic" dx="1.2">M</tspan></text>
<text transform="translate(88.1,171.5) rotate(-90) scale(1,1.045)" text-anchor="middle">Re[h]</text>
<text transform="translate(94.0,663.9) rotate(-90) scale(1,1.045)">Re[<tspan font-style="italic" dx="0.8">h</tspan><tspan font-size="19.1" dy="5.0">2,2</tspan><tspan dy="-2.5" dx="0.8"> +</tspan><tspan dy="-2.5" dx="0"> </tspan><tspan font-style="italic" dx="0.8">h</tspan><tspan font-size="19.1" dy="5.0">2,0</tspan><tspan font-size="19.2" dy="-19.2" dx="-27.2">(mem)</tspan><tspan dy="14.2" dx="0.8">]</tspan></text>
<text transform="translate(92.2,1024.2) rotate(-90) scale(1,1.045)">Re[<tspan font-style="italic" dx="0.8">h</tspan><tspan font-size="19.1" dy="5.0">2,0</tspan><tspan font-size="19.2" dy="-19.2" dx="-27.2">(mem)</tspan><tspan dy="14.2" dx="0.8">]</tspan></text>
</svg>
</body></html>
